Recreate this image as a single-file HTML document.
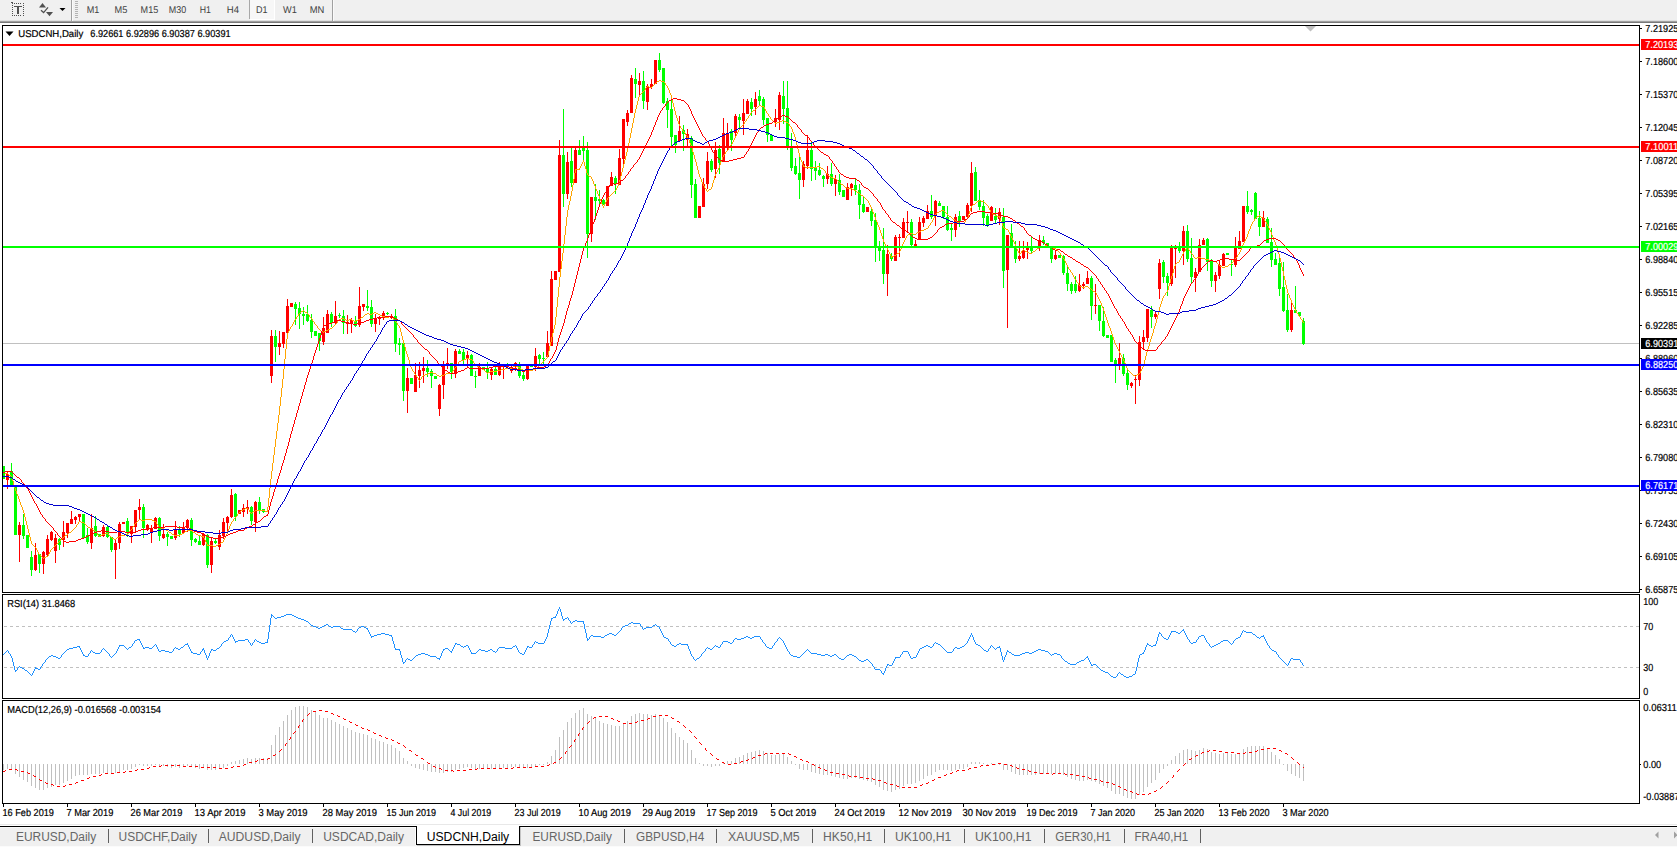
<!DOCTYPE html>
<html><head><meta charset="utf-8"><title>USDCNH,Daily</title>
<style>
html,body{margin:0;padding:0;background:#fff;}
body{width:1677px;height:847px;overflow:hidden;position:relative;font-family:"Liberation Sans",sans-serif;}
svg text{white-space:pre;}
</style></head><body>
<svg width="1677" height="847" viewBox="0 0 1677 847" style="position:absolute;left:0;top:0">
<g shape-rendering="crispEdges">
<rect x="2" y="25" width="1638" height="1" fill="#000"/>
<rect x="2" y="25" width="1" height="779" fill="#000"/>
<rect x="1639" y="25" width="1" height="779" fill="#000"/>
<rect x="2" y="592" width="1638" height="1" fill="#000"/>
<rect x="2" y="593" width="1640" height="1" fill="#fff"/>
<rect x="2" y="594" width="1638" height="1" fill="#000"/>
<rect x="2" y="698" width="1638" height="1" fill="#000"/>
<rect x="2" y="699" width="1640" height="1" fill="#fff"/>
<rect x="2" y="700" width="1638" height="1" fill="#000"/>
<rect x="2" y="803" width="1638" height="1" fill="#000"/>
<rect x="1640" y="28" width="2" height="1" fill="#000"/>
<rect x="1640" y="61" width="2" height="1" fill="#000"/>
<rect x="1640" y="94" width="2" height="1" fill="#000"/>
<rect x="1640" y="127" width="2" height="1" fill="#000"/>
<rect x="1640" y="160" width="2" height="1" fill="#000"/>
<rect x="1640" y="193" width="2" height="1" fill="#000"/>
<rect x="1640" y="226" width="2" height="1" fill="#000"/>
<rect x="1640" y="259" width="2" height="1" fill="#000"/>
<rect x="1640" y="292" width="2" height="1" fill="#000"/>
<rect x="1640" y="325" width="2" height="1" fill="#000"/>
<rect x="1640" y="358" width="2" height="1" fill="#000"/>
<rect x="1640" y="391" width="2" height="1" fill="#000"/>
<rect x="1640" y="424" width="2" height="1" fill="#000"/>
<rect x="1640" y="457" width="2" height="1" fill="#000"/>
<rect x="1640" y="490" width="2" height="1" fill="#000"/>
<rect x="1640" y="523" width="2" height="1" fill="#000"/>
<rect x="1640" y="556" width="2" height="1" fill="#000"/>
<rect x="1640" y="589" width="2" height="1" fill="#000"/>
<rect x="3" y="804" width="1" height="3" fill="#000"/>
<rect x="67" y="804" width="1" height="3" fill="#000"/>
<rect x="131" y="804" width="1" height="3" fill="#000"/>
<rect x="195" y="804" width="1" height="3" fill="#000"/>
<rect x="259" y="804" width="1" height="3" fill="#000"/>
<rect x="323" y="804" width="1" height="3" fill="#000"/>
<rect x="387" y="804" width="1" height="3" fill="#000"/>
<rect x="451" y="804" width="1" height="3" fill="#000"/>
<rect x="515" y="804" width="1" height="3" fill="#000"/>
<rect x="579" y="804" width="1" height="3" fill="#000"/>
<rect x="643" y="804" width="1" height="3" fill="#000"/>
<rect x="707" y="804" width="1" height="3" fill="#000"/>
<rect x="771" y="804" width="1" height="3" fill="#000"/>
<rect x="835" y="804" width="1" height="3" fill="#000"/>
<rect x="899" y="804" width="1" height="3" fill="#000"/>
<rect x="963" y="804" width="1" height="3" fill="#000"/>
<rect x="1027" y="804" width="1" height="3" fill="#000"/>
<rect x="1091" y="804" width="1" height="3" fill="#000"/>
<rect x="1155" y="804" width="1" height="3" fill="#000"/>
<rect x="1219" y="804" width="1" height="3" fill="#000"/>
<rect x="1283" y="804" width="1" height="3" fill="#000"/>
<rect x="1640" y="764" width="1" height="1" fill="#000"/>
</g>
<g shape-rendering="crispEdges">
<rect x="3" y="343" width="1636" height="1" fill="#c0c0c0"/>
</g>
<g shape-rendering="crispEdges">
<rect x="3" y="466" width="1" height="13" fill="#00ff00"/>
<rect x="3" y="466" width="2" height="13" fill="#00ff00"/>
<rect x="7" y="471" width="1" height="18" fill="#ff0000"/>
<rect x="6" y="474" width="3" height="6" fill="#ff0000"/>
<rect x="11" y="463" width="1" height="23" fill="#00ff00"/>
<rect x="10" y="471" width="3" height="15" fill="#00ff00"/>
<rect x="15" y="486" width="1" height="49" fill="#00ff00"/>
<rect x="14" y="486" width="3" height="49" fill="#00ff00"/>
<rect x="19" y="522" width="1" height="40" fill="#ff0000"/>
<rect x="18" y="525" width="3" height="10" fill="#ff0000"/>
<rect x="23" y="514" width="1" height="25" fill="#00ff00"/>
<rect x="22" y="525" width="3" height="11" fill="#00ff00"/>
<rect x="27" y="535" width="1" height="13" fill="#00ff00"/>
<rect x="26" y="535" width="3" height="13" fill="#00ff00"/>
<rect x="31" y="551" width="1" height="25" fill="#00ff00"/>
<rect x="30" y="557" width="3" height="13" fill="#00ff00"/>
<rect x="35" y="543" width="1" height="28" fill="#ff0000"/>
<rect x="34" y="555" width="3" height="15" fill="#ff0000"/>
<rect x="39" y="554" width="1" height="19" fill="#00ff00"/>
<rect x="38" y="554" width="3" height="10" fill="#00ff00"/>
<rect x="43" y="551" width="1" height="23" fill="#ff0000"/>
<rect x="42" y="552" width="3" height="12" fill="#ff0000"/>
<rect x="47" y="535" width="1" height="22" fill="#ff0000"/>
<rect x="46" y="539" width="3" height="16" fill="#ff0000"/>
<rect x="51" y="531" width="1" height="10" fill="#ff0000"/>
<rect x="50" y="532" width="3" height="8" fill="#ff0000"/>
<rect x="55" y="534" width="1" height="29" fill="#ff0000"/>
<rect x="54" y="538" width="3" height="13" fill="#ff0000"/>
<rect x="59" y="538" width="1" height="12" fill="#00ff00"/>
<rect x="58" y="539" width="3" height="6" fill="#00ff00"/>
<rect x="63" y="521" width="1" height="26" fill="#ff0000"/>
<rect x="62" y="532" width="3" height="8" fill="#ff0000"/>
<rect x="67" y="523" width="1" height="15" fill="#ff0000"/>
<rect x="66" y="523" width="3" height="10" fill="#ff0000"/>
<rect x="71" y="511" width="1" height="13" fill="#ff0000"/>
<rect x="70" y="519" width="3" height="5" fill="#ff0000"/>
<rect x="75" y="516" width="1" height="8" fill="#ff0000"/>
<rect x="74" y="517" width="3" height="3" fill="#ff0000"/>
<rect x="79" y="514" width="1" height="7" fill="#ff0000"/>
<rect x="78" y="514" width="3" height="3" fill="#ff0000"/>
<rect x="83" y="514" width="1" height="24" fill="#00ff00"/>
<rect x="82" y="514" width="3" height="24" fill="#00ff00"/>
<rect x="87" y="528" width="1" height="16" fill="#00ff00"/>
<rect x="86" y="535" width="3" height="7" fill="#00ff00"/>
<rect x="91" y="514" width="1" height="35" fill="#ff0000"/>
<rect x="90" y="528" width="3" height="15" fill="#ff0000"/>
<rect x="95" y="516" width="1" height="21" fill="#00ff00"/>
<rect x="94" y="526" width="3" height="10" fill="#00ff00"/>
<rect x="99" y="534" width="1" height="3" fill="#00ff00"/>
<rect x="98" y="534" width="3" height="3" fill="#00ff00"/>
<rect x="103" y="525" width="1" height="12" fill="#ff0000"/>
<rect x="102" y="527" width="3" height="9" fill="#ff0000"/>
<rect x="107" y="525" width="1" height="13" fill="#00ff00"/>
<rect x="106" y="527" width="3" height="10" fill="#00ff00"/>
<rect x="111" y="537" width="1" height="15" fill="#00ff00"/>
<rect x="110" y="537" width="3" height="13" fill="#00ff00"/>
<rect x="115" y="539" width="1" height="40" fill="#ff0000"/>
<rect x="114" y="543" width="3" height="7" fill="#ff0000"/>
<rect x="119" y="522" width="1" height="27" fill="#ff0000"/>
<rect x="118" y="524" width="3" height="19" fill="#ff0000"/>
<rect x="123" y="522" width="1" height="2" fill="#ff0000"/>
<rect x="122" y="522" width="3" height="2" fill="#ff0000"/>
<rect x="127" y="518" width="1" height="19" fill="#00ff00"/>
<rect x="126" y="521" width="3" height="11" fill="#00ff00"/>
<rect x="131" y="526" width="1" height="17" fill="#ff0000"/>
<rect x="130" y="526" width="3" height="8" fill="#ff0000"/>
<rect x="135" y="510" width="1" height="23" fill="#ff0000"/>
<rect x="134" y="510" width="3" height="17" fill="#ff0000"/>
<rect x="139" y="499" width="1" height="20" fill="#ff0000"/>
<rect x="138" y="507" width="3" height="3" fill="#ff0000"/>
<rect x="143" y="504" width="1" height="34" fill="#00ff00"/>
<rect x="142" y="507" width="3" height="21" fill="#00ff00"/>
<rect x="147" y="524" width="1" height="7" fill="#ff0000"/>
<rect x="146" y="525" width="3" height="4" fill="#ff0000"/>
<rect x="151" y="525" width="1" height="18" fill="#ff0000"/>
<rect x="150" y="528" width="3" height="5" fill="#ff0000"/>
<rect x="155" y="517" width="1" height="12" fill="#ff0000"/>
<rect x="154" y="518" width="3" height="11" fill="#ff0000"/>
<rect x="159" y="517" width="1" height="24" fill="#00ff00"/>
<rect x="158" y="518" width="3" height="18" fill="#00ff00"/>
<rect x="163" y="524" width="1" height="15" fill="#ff0000"/>
<rect x="162" y="534" width="3" height="4" fill="#ff0000"/>
<rect x="167" y="532" width="1" height="14" fill="#00ff00"/>
<rect x="166" y="534" width="3" height="3" fill="#00ff00"/>
<rect x="171" y="536" width="1" height="3" fill="#00ff00"/>
<rect x="170" y="536" width="3" height="3" fill="#00ff00"/>
<rect x="175" y="521" width="1" height="19" fill="#ff0000"/>
<rect x="174" y="529" width="3" height="9" fill="#ff0000"/>
<rect x="179" y="526" width="1" height="11" fill="#00ff00"/>
<rect x="178" y="530" width="3" height="4" fill="#00ff00"/>
<rect x="183" y="522" width="1" height="11" fill="#ff0000"/>
<rect x="182" y="527" width="3" height="6" fill="#ff0000"/>
<rect x="187" y="519" width="1" height="13" fill="#ff0000"/>
<rect x="186" y="520" width="3" height="8" fill="#ff0000"/>
<rect x="191" y="518" width="1" height="28" fill="#00ff00"/>
<rect x="190" y="520" width="3" height="20" fill="#00ff00"/>
<rect x="195" y="538" width="1" height="5" fill="#00ff00"/>
<rect x="194" y="539" width="3" height="3" fill="#00ff00"/>
<rect x="199" y="536" width="1" height="9" fill="#00ff00"/>
<rect x="198" y="541" width="3" height="4" fill="#00ff00"/>
<rect x="203" y="533" width="1" height="13" fill="#ff0000"/>
<rect x="202" y="534" width="3" height="11" fill="#ff0000"/>
<rect x="207" y="534" width="1" height="34" fill="#00ff00"/>
<rect x="206" y="535" width="3" height="30" fill="#00ff00"/>
<rect x="211" y="538" width="1" height="35" fill="#ff0000"/>
<rect x="210" y="541" width="3" height="24" fill="#ff0000"/>
<rect x="215" y="538" width="1" height="6" fill="#00ff00"/>
<rect x="214" y="541" width="3" height="2" fill="#00ff00"/>
<rect x="219" y="530" width="1" height="20" fill="#ff0000"/>
<rect x="218" y="535" width="3" height="12" fill="#ff0000"/>
<rect x="223" y="518" width="1" height="21" fill="#ff0000"/>
<rect x="222" y="522" width="3" height="14" fill="#ff0000"/>
<rect x="227" y="516" width="1" height="16" fill="#ff0000"/>
<rect x="226" y="517" width="3" height="6" fill="#ff0000"/>
<rect x="231" y="489" width="1" height="29" fill="#ff0000"/>
<rect x="230" y="495" width="3" height="22" fill="#ff0000"/>
<rect x="235" y="493" width="1" height="28" fill="#00ff00"/>
<rect x="234" y="494" width="3" height="23" fill="#00ff00"/>
<rect x="239" y="510" width="1" height="4" fill="#ff0000"/>
<rect x="238" y="510" width="3" height="4" fill="#ff0000"/>
<rect x="243" y="504" width="1" height="13" fill="#ff0000"/>
<rect x="242" y="508" width="3" height="4" fill="#ff0000"/>
<rect x="247" y="500" width="1" height="14" fill="#ff0000"/>
<rect x="246" y="507" width="3" height="2" fill="#ff0000"/>
<rect x="251" y="506" width="1" height="19" fill="#00ff00"/>
<rect x="250" y="507" width="3" height="14" fill="#00ff00"/>
<rect x="255" y="501" width="1" height="31" fill="#ff0000"/>
<rect x="254" y="502" width="3" height="20" fill="#ff0000"/>
<rect x="259" y="497" width="1" height="17" fill="#00ff00"/>
<rect x="258" y="502" width="3" height="8" fill="#00ff00"/>
<rect x="263" y="509" width="1" height="4" fill="#00ff00"/>
<rect x="262" y="509" width="3" height="3" fill="#00ff00"/>
<rect x="271" y="330" width="1" height="53" fill="#ff0000"/>
<rect x="270" y="336" width="3" height="40" fill="#ff0000"/>
<rect x="275" y="330" width="1" height="32" fill="#00ff00"/>
<rect x="274" y="336" width="3" height="11" fill="#00ff00"/>
<rect x="279" y="331" width="1" height="24" fill="#ff0000"/>
<rect x="278" y="343" width="3" height="4" fill="#ff0000"/>
<rect x="283" y="332" width="1" height="16" fill="#ff0000"/>
<rect x="282" y="332" width="3" height="12" fill="#ff0000"/>
<rect x="287" y="299" width="1" height="34" fill="#ff0000"/>
<rect x="286" y="306" width="3" height="27" fill="#ff0000"/>
<rect x="291" y="303" width="1" height="4" fill="#ff0000"/>
<rect x="290" y="303" width="3" height="4" fill="#ff0000"/>
<rect x="295" y="302" width="1" height="23" fill="#00ff00"/>
<rect x="294" y="304" width="3" height="5" fill="#00ff00"/>
<rect x="299" y="302" width="1" height="27" fill="#00ff00"/>
<rect x="298" y="308" width="3" height="6" fill="#00ff00"/>
<rect x="303" y="307" width="1" height="18" fill="#00ff00"/>
<rect x="302" y="314" width="3" height="2" fill="#00ff00"/>
<rect x="307" y="305" width="1" height="17" fill="#00ff00"/>
<rect x="306" y="314" width="3" height="7" fill="#00ff00"/>
<rect x="311" y="314" width="1" height="24" fill="#00ff00"/>
<rect x="310" y="320" width="3" height="12" fill="#00ff00"/>
<rect x="315" y="331" width="1" height="5" fill="#00ff00"/>
<rect x="314" y="331" width="3" height="5" fill="#00ff00"/>
<rect x="319" y="333" width="1" height="18" fill="#00ff00"/>
<rect x="318" y="333" width="3" height="8" fill="#00ff00"/>
<rect x="323" y="317" width="1" height="28" fill="#ff0000"/>
<rect x="322" y="328" width="3" height="14" fill="#ff0000"/>
<rect x="327" y="310" width="1" height="23" fill="#ff0000"/>
<rect x="326" y="314" width="3" height="19" fill="#ff0000"/>
<rect x="331" y="312" width="1" height="15" fill="#00ff00"/>
<rect x="330" y="314" width="3" height="9" fill="#00ff00"/>
<rect x="335" y="301" width="1" height="23" fill="#ff0000"/>
<rect x="334" y="316" width="3" height="7" fill="#ff0000"/>
<rect x="339" y="313" width="1" height="5" fill="#00ff00"/>
<rect x="338" y="315" width="3" height="1" fill="#00ff00"/>
<rect x="343" y="310" width="1" height="24" fill="#00ff00"/>
<rect x="342" y="316" width="3" height="7" fill="#00ff00"/>
<rect x="347" y="315" width="1" height="19" fill="#ff0000"/>
<rect x="346" y="322" width="3" height="2" fill="#ff0000"/>
<rect x="351" y="318" width="1" height="15" fill="#ff0000"/>
<rect x="350" y="320" width="3" height="4" fill="#ff0000"/>
<rect x="355" y="316" width="1" height="11" fill="#00ff00"/>
<rect x="354" y="321" width="3" height="5" fill="#00ff00"/>
<rect x="359" y="287" width="1" height="40" fill="#ff0000"/>
<rect x="358" y="306" width="3" height="19" fill="#ff0000"/>
<rect x="363" y="304" width="1" height="7" fill="#ff0000"/>
<rect x="362" y="304" width="3" height="3" fill="#ff0000"/>
<rect x="367" y="290" width="1" height="21" fill="#00ff00"/>
<rect x="366" y="306" width="3" height="2" fill="#00ff00"/>
<rect x="371" y="300" width="1" height="27" fill="#00ff00"/>
<rect x="370" y="307" width="3" height="17" fill="#00ff00"/>
<rect x="375" y="314" width="1" height="18" fill="#ff0000"/>
<rect x="374" y="318" width="3" height="6" fill="#ff0000"/>
<rect x="379" y="316" width="1" height="9" fill="#ff0000"/>
<rect x="378" y="317" width="3" height="2" fill="#ff0000"/>
<rect x="383" y="311" width="1" height="9" fill="#ff0000"/>
<rect x="382" y="313" width="3" height="3" fill="#ff0000"/>
<rect x="387" y="312" width="1" height="3" fill="#00ff00"/>
<rect x="386" y="313" width="3" height="1" fill="#00ff00"/>
<rect x="391" y="314" width="1" height="5" fill="#ff0000"/>
<rect x="390" y="316" width="3" height="2" fill="#ff0000"/>
<rect x="395" y="309" width="1" height="43" fill="#00ff00"/>
<rect x="394" y="316" width="3" height="28" fill="#00ff00"/>
<rect x="399" y="338" width="1" height="17" fill="#00ff00"/>
<rect x="398" y="343" width="3" height="2" fill="#00ff00"/>
<rect x="403" y="343" width="1" height="58" fill="#00ff00"/>
<rect x="402" y="343" width="3" height="48" fill="#00ff00"/>
<rect x="407" y="368" width="1" height="45" fill="#ff0000"/>
<rect x="406" y="378" width="3" height="13" fill="#ff0000"/>
<rect x="411" y="378" width="1" height="6" fill="#00ff00"/>
<rect x="410" y="378" width="3" height="6" fill="#00ff00"/>
<rect x="415" y="363" width="1" height="29" fill="#ff0000"/>
<rect x="414" y="375" width="3" height="17" fill="#ff0000"/>
<rect x="419" y="362" width="1" height="26" fill="#ff0000"/>
<rect x="418" y="370" width="3" height="6" fill="#ff0000"/>
<rect x="423" y="357" width="1" height="26" fill="#ff0000"/>
<rect x="422" y="368" width="3" height="3" fill="#ff0000"/>
<rect x="427" y="360" width="1" height="17" fill="#00ff00"/>
<rect x="426" y="368" width="3" height="4" fill="#00ff00"/>
<rect x="431" y="369" width="1" height="19" fill="#00ff00"/>
<rect x="430" y="371" width="3" height="5" fill="#00ff00"/>
<rect x="435" y="376" width="1" height="3" fill="#00ff00"/>
<rect x="434" y="376" width="3" height="3" fill="#00ff00"/>
<rect x="439" y="384" width="1" height="32" fill="#ff0000"/>
<rect x="438" y="385" width="3" height="24" fill="#ff0000"/>
<rect x="443" y="361" width="1" height="38" fill="#ff0000"/>
<rect x="442" y="365" width="3" height="20" fill="#ff0000"/>
<rect x="447" y="348" width="1" height="21" fill="#ff0000"/>
<rect x="446" y="363" width="3" height="2" fill="#ff0000"/>
<rect x="451" y="363" width="1" height="16" fill="#00ff00"/>
<rect x="450" y="363" width="3" height="9" fill="#00ff00"/>
<rect x="455" y="349" width="1" height="29" fill="#ff0000"/>
<rect x="454" y="351" width="3" height="23" fill="#ff0000"/>
<rect x="459" y="349" width="1" height="5" fill="#00ff00"/>
<rect x="458" y="351" width="3" height="3" fill="#00ff00"/>
<rect x="463" y="349" width="1" height="15" fill="#00ff00"/>
<rect x="462" y="352" width="3" height="8" fill="#00ff00"/>
<rect x="467" y="351" width="1" height="16" fill="#ff0000"/>
<rect x="466" y="355" width="3" height="4" fill="#ff0000"/>
<rect x="471" y="354" width="1" height="22" fill="#00ff00"/>
<rect x="470" y="355" width="3" height="21" fill="#00ff00"/>
<rect x="475" y="371" width="1" height="17" fill="#00ff00"/>
<rect x="474" y="376" width="3" height="1" fill="#00ff00"/>
<rect x="479" y="363" width="1" height="13" fill="#ff0000"/>
<rect x="478" y="367" width="3" height="9" fill="#ff0000"/>
<rect x="483" y="367" width="1" height="3" fill="#00ff00"/>
<rect x="482" y="367" width="3" height="3" fill="#00ff00"/>
<rect x="487" y="362" width="1" height="17" fill="#00ff00"/>
<rect x="486" y="368" width="3" height="4" fill="#00ff00"/>
<rect x="491" y="367" width="1" height="13" fill="#ff0000"/>
<rect x="490" y="369" width="3" height="6" fill="#ff0000"/>
<rect x="495" y="367" width="1" height="8" fill="#00ff00"/>
<rect x="494" y="369" width="3" height="6" fill="#00ff00"/>
<rect x="499" y="362" width="1" height="14" fill="#ff0000"/>
<rect x="498" y="365" width="3" height="10" fill="#ff0000"/>
<rect x="503" y="365" width="1" height="14" fill="#ff0000"/>
<rect x="502" y="365" width="3" height="1" fill="#ff0000"/>
<rect x="507" y="363" width="1" height="4" fill="#00ff00"/>
<rect x="506" y="365" width="3" height="1" fill="#00ff00"/>
<rect x="511" y="366" width="1" height="7" fill="#ff0000"/>
<rect x="510" y="367" width="3" height="4" fill="#ff0000"/>
<rect x="515" y="362" width="1" height="9" fill="#ff0000"/>
<rect x="514" y="363" width="3" height="3" fill="#ff0000"/>
<rect x="519" y="362" width="1" height="16" fill="#00ff00"/>
<rect x="518" y="365" width="3" height="11" fill="#00ff00"/>
<rect x="523" y="371" width="1" height="10" fill="#00ff00"/>
<rect x="522" y="375" width="3" height="4" fill="#00ff00"/>
<rect x="527" y="365" width="1" height="15" fill="#ff0000"/>
<rect x="526" y="366" width="3" height="13" fill="#ff0000"/>
<rect x="531" y="366" width="1" height="1" fill="#00ff00"/>
<rect x="530" y="366" width="3" height="1" fill="#00ff00"/>
<rect x="535" y="348" width="1" height="23" fill="#ff0000"/>
<rect x="534" y="356" width="3" height="11" fill="#ff0000"/>
<rect x="539" y="354" width="1" height="11" fill="#00ff00"/>
<rect x="538" y="355" width="3" height="4" fill="#00ff00"/>
<rect x="543" y="352" width="1" height="13" fill="#00ff00"/>
<rect x="542" y="358" width="3" height="1" fill="#00ff00"/>
<rect x="547" y="331" width="1" height="26" fill="#ff0000"/>
<rect x="546" y="343" width="3" height="14" fill="#ff0000"/>
<rect x="551" y="271" width="1" height="75" fill="#ff0000"/>
<rect x="550" y="279" width="3" height="67" fill="#ff0000"/>
<rect x="555" y="271" width="1" height="9" fill="#ff0000"/>
<rect x="554" y="271" width="3" height="9" fill="#ff0000"/>
<rect x="559" y="140" width="1" height="132" fill="#ff0000"/>
<rect x="558" y="155" width="3" height="117" fill="#ff0000"/>
<rect x="563" y="109" width="1" height="98" fill="#00ff00"/>
<rect x="562" y="155" width="3" height="39" fill="#00ff00"/>
<rect x="567" y="152" width="1" height="47" fill="#ff0000"/>
<rect x="566" y="162" width="3" height="32" fill="#ff0000"/>
<rect x="571" y="148" width="1" height="39" fill="#00ff00"/>
<rect x="570" y="161" width="3" height="22" fill="#00ff00"/>
<rect x="575" y="148" width="1" height="35" fill="#ff0000"/>
<rect x="574" y="150" width="3" height="33" fill="#ff0000"/>
<rect x="579" y="140" width="1" height="15" fill="#00ff00"/>
<rect x="578" y="150" width="3" height="5" fill="#00ff00"/>
<rect x="583" y="136" width="1" height="24" fill="#00ff00"/>
<rect x="582" y="148" width="3" height="3" fill="#00ff00"/>
<rect x="587" y="142" width="1" height="116" fill="#00ff00"/>
<rect x="586" y="150" width="3" height="84" fill="#00ff00"/>
<rect x="591" y="197" width="1" height="45" fill="#ff0000"/>
<rect x="590" y="197" width="3" height="37" fill="#ff0000"/>
<rect x="595" y="184" width="1" height="36" fill="#00ff00"/>
<rect x="594" y="197" width="3" height="4" fill="#00ff00"/>
<rect x="599" y="190" width="1" height="16" fill="#00ff00"/>
<rect x="598" y="199" width="3" height="2" fill="#00ff00"/>
<rect x="603" y="199" width="1" height="6" fill="#00ff00"/>
<rect x="602" y="200" width="3" height="4" fill="#00ff00"/>
<rect x="607" y="186" width="1" height="20" fill="#ff0000"/>
<rect x="606" y="186" width="3" height="20" fill="#ff0000"/>
<rect x="611" y="172" width="1" height="14" fill="#ff0000"/>
<rect x="610" y="177" width="3" height="9" fill="#ff0000"/>
<rect x="615" y="176" width="1" height="18" fill="#00ff00"/>
<rect x="614" y="178" width="3" height="6" fill="#00ff00"/>
<rect x="619" y="149" width="1" height="36" fill="#ff0000"/>
<rect x="618" y="158" width="3" height="27" fill="#ff0000"/>
<rect x="623" y="119" width="1" height="45" fill="#ff0000"/>
<rect x="622" y="119" width="3" height="40" fill="#ff0000"/>
<rect x="627" y="110" width="1" height="16" fill="#ff0000"/>
<rect x="626" y="113" width="3" height="9" fill="#ff0000"/>
<rect x="631" y="75" width="1" height="38" fill="#ff0000"/>
<rect x="630" y="78" width="3" height="35" fill="#ff0000"/>
<rect x="635" y="68" width="1" height="30" fill="#00ff00"/>
<rect x="634" y="79" width="3" height="5" fill="#00ff00"/>
<rect x="639" y="73" width="1" height="22" fill="#ff0000"/>
<rect x="638" y="81" width="3" height="4" fill="#ff0000"/>
<rect x="643" y="71" width="1" height="38" fill="#00ff00"/>
<rect x="642" y="81" width="3" height="20" fill="#00ff00"/>
<rect x="647" y="84" width="1" height="26" fill="#ff0000"/>
<rect x="646" y="86" width="3" height="16" fill="#ff0000"/>
<rect x="651" y="79" width="1" height="10" fill="#ff0000"/>
<rect x="650" y="84" width="3" height="3" fill="#ff0000"/>
<rect x="655" y="60" width="1" height="24" fill="#ff0000"/>
<rect x="654" y="60" width="3" height="24" fill="#ff0000"/>
<rect x="659" y="53" width="1" height="19" fill="#00ff00"/>
<rect x="658" y="60" width="3" height="10" fill="#00ff00"/>
<rect x="663" y="68" width="1" height="36" fill="#00ff00"/>
<rect x="662" y="68" width="3" height="35" fill="#00ff00"/>
<rect x="667" y="98" width="1" height="30" fill="#00ff00"/>
<rect x="666" y="101" width="3" height="9" fill="#00ff00"/>
<rect x="671" y="99" width="1" height="48" fill="#00ff00"/>
<rect x="670" y="109" width="3" height="28" fill="#00ff00"/>
<rect x="675" y="135" width="1" height="18" fill="#00ff00"/>
<rect x="674" y="135" width="3" height="10" fill="#00ff00"/>
<rect x="679" y="116" width="1" height="25" fill="#ff0000"/>
<rect x="678" y="131" width="3" height="10" fill="#ff0000"/>
<rect x="683" y="125" width="1" height="26" fill="#00ff00"/>
<rect x="682" y="130" width="3" height="4" fill="#00ff00"/>
<rect x="687" y="129" width="1" height="17" fill="#ff0000"/>
<rect x="686" y="134" width="3" height="6" fill="#ff0000"/>
<rect x="691" y="136" width="1" height="62" fill="#00ff00"/>
<rect x="690" y="138" width="3" height="47" fill="#00ff00"/>
<rect x="695" y="179" width="1" height="39" fill="#00ff00"/>
<rect x="694" y="184" width="3" height="34" fill="#00ff00"/>
<rect x="699" y="206" width="1" height="12" fill="#ff0000"/>
<rect x="698" y="206" width="3" height="12" fill="#ff0000"/>
<rect x="703" y="178" width="1" height="29" fill="#ff0000"/>
<rect x="702" y="184" width="3" height="23" fill="#ff0000"/>
<rect x="707" y="152" width="1" height="37" fill="#ff0000"/>
<rect x="706" y="161" width="3" height="23" fill="#ff0000"/>
<rect x="711" y="159" width="1" height="13" fill="#00ff00"/>
<rect x="710" y="161" width="3" height="9" fill="#00ff00"/>
<rect x="715" y="142" width="1" height="36" fill="#ff0000"/>
<rect x="714" y="150" width="3" height="19" fill="#ff0000"/>
<rect x="719" y="145" width="1" height="29" fill="#00ff00"/>
<rect x="718" y="149" width="3" height="14" fill="#00ff00"/>
<rect x="723" y="118" width="1" height="44" fill="#ff0000"/>
<rect x="722" y="133" width="3" height="29" fill="#ff0000"/>
<rect x="727" y="123" width="1" height="28" fill="#ff0000"/>
<rect x="726" y="133" width="3" height="15" fill="#ff0000"/>
<rect x="731" y="129" width="1" height="22" fill="#00ff00"/>
<rect x="730" y="131" width="3" height="9" fill="#00ff00"/>
<rect x="735" y="114" width="1" height="24" fill="#ff0000"/>
<rect x="734" y="116" width="3" height="17" fill="#ff0000"/>
<rect x="739" y="114" width="1" height="15" fill="#00ff00"/>
<rect x="738" y="117" width="3" height="3" fill="#00ff00"/>
<rect x="743" y="99" width="1" height="36" fill="#ff0000"/>
<rect x="742" y="113" width="3" height="8" fill="#ff0000"/>
<rect x="747" y="99" width="1" height="15" fill="#ff0000"/>
<rect x="746" y="101" width="3" height="13" fill="#ff0000"/>
<rect x="751" y="98" width="1" height="18" fill="#00ff00"/>
<rect x="750" y="102" width="3" height="7" fill="#00ff00"/>
<rect x="755" y="92" width="1" height="23" fill="#ff0000"/>
<rect x="754" y="99" width="3" height="8" fill="#ff0000"/>
<rect x="759" y="90" width="1" height="15" fill="#00ff00"/>
<rect x="758" y="96" width="3" height="5" fill="#00ff00"/>
<rect x="763" y="97" width="1" height="28" fill="#00ff00"/>
<rect x="762" y="99" width="3" height="21" fill="#00ff00"/>
<rect x="767" y="118" width="1" height="24" fill="#00ff00"/>
<rect x="766" y="118" width="3" height="17" fill="#00ff00"/>
<rect x="771" y="135" width="1" height="6" fill="#00ff00"/>
<rect x="770" y="135" width="3" height="6" fill="#00ff00"/>
<rect x="775" y="109" width="1" height="18" fill="#ff0000"/>
<rect x="774" y="118" width="3" height="4" fill="#ff0000"/>
<rect x="779" y="92" width="1" height="38" fill="#ff0000"/>
<rect x="778" y="95" width="3" height="25" fill="#ff0000"/>
<rect x="783" y="81" width="1" height="43" fill="#00ff00"/>
<rect x="782" y="96" width="3" height="13" fill="#00ff00"/>
<rect x="787" y="81" width="1" height="69" fill="#00ff00"/>
<rect x="786" y="108" width="3" height="38" fill="#00ff00"/>
<rect x="791" y="133" width="1" height="38" fill="#00ff00"/>
<rect x="790" y="146" width="3" height="22" fill="#00ff00"/>
<rect x="795" y="158" width="1" height="17" fill="#00ff00"/>
<rect x="794" y="166" width="3" height="8" fill="#00ff00"/>
<rect x="799" y="156" width="1" height="43" fill="#00ff00"/>
<rect x="798" y="173" width="3" height="7" fill="#00ff00"/>
<rect x="803" y="161" width="1" height="26" fill="#ff0000"/>
<rect x="802" y="164" width="3" height="16" fill="#ff0000"/>
<rect x="807" y="135" width="1" height="34" fill="#ff0000"/>
<rect x="806" y="150" width="3" height="16" fill="#ff0000"/>
<rect x="811" y="142" width="1" height="39" fill="#00ff00"/>
<rect x="810" y="150" width="3" height="19" fill="#00ff00"/>
<rect x="815" y="161" width="1" height="19" fill="#00ff00"/>
<rect x="814" y="167" width="3" height="4" fill="#00ff00"/>
<rect x="819" y="163" width="1" height="13" fill="#00ff00"/>
<rect x="818" y="170" width="3" height="5" fill="#00ff00"/>
<rect x="823" y="175" width="1" height="12" fill="#00ff00"/>
<rect x="822" y="176" width="3" height="3" fill="#00ff00"/>
<rect x="827" y="166" width="1" height="18" fill="#ff0000"/>
<rect x="826" y="174" width="3" height="5" fill="#ff0000"/>
<rect x="831" y="163" width="1" height="23" fill="#00ff00"/>
<rect x="830" y="174" width="3" height="10" fill="#00ff00"/>
<rect x="835" y="175" width="1" height="21" fill="#ff0000"/>
<rect x="834" y="179" width="3" height="5" fill="#ff0000"/>
<rect x="839" y="174" width="1" height="21" fill="#00ff00"/>
<rect x="838" y="180" width="3" height="12" fill="#00ff00"/>
<rect x="843" y="190" width="1" height="7" fill="#00ff00"/>
<rect x="842" y="190" width="3" height="7" fill="#00ff00"/>
<rect x="847" y="183" width="1" height="17" fill="#ff0000"/>
<rect x="846" y="187" width="3" height="13" fill="#ff0000"/>
<rect x="851" y="183" width="1" height="13" fill="#ff0000"/>
<rect x="850" y="184" width="3" height="4" fill="#ff0000"/>
<rect x="855" y="178" width="1" height="17" fill="#00ff00"/>
<rect x="854" y="185" width="3" height="5" fill="#00ff00"/>
<rect x="859" y="184" width="1" height="35" fill="#00ff00"/>
<rect x="858" y="190" width="3" height="15" fill="#00ff00"/>
<rect x="863" y="197" width="1" height="16" fill="#00ff00"/>
<rect x="862" y="204" width="3" height="8" fill="#00ff00"/>
<rect x="867" y="207" width="1" height="5" fill="#ff0000"/>
<rect x="866" y="207" width="3" height="5" fill="#ff0000"/>
<rect x="871" y="209" width="1" height="17" fill="#00ff00"/>
<rect x="870" y="211" width="3" height="10" fill="#00ff00"/>
<rect x="875" y="213" width="1" height="49" fill="#00ff00"/>
<rect x="874" y="220" width="3" height="27" fill="#00ff00"/>
<rect x="879" y="241" width="1" height="20" fill="#00ff00"/>
<rect x="878" y="247" width="3" height="4" fill="#00ff00"/>
<rect x="883" y="228" width="1" height="56" fill="#00ff00"/>
<rect x="882" y="250" width="3" height="24" fill="#00ff00"/>
<rect x="887" y="245" width="1" height="51" fill="#ff0000"/>
<rect x="886" y="254" width="3" height="20" fill="#ff0000"/>
<rect x="891" y="253" width="1" height="8" fill="#00ff00"/>
<rect x="890" y="256" width="3" height="3" fill="#00ff00"/>
<rect x="895" y="235" width="1" height="26" fill="#ff0000"/>
<rect x="894" y="237" width="3" height="24" fill="#ff0000"/>
<rect x="899" y="234" width="1" height="23" fill="#ff0000"/>
<rect x="898" y="237" width="3" height="1" fill="#ff0000"/>
<rect x="903" y="218" width="1" height="20" fill="#ff0000"/>
<rect x="902" y="222" width="3" height="16" fill="#ff0000"/>
<rect x="907" y="211" width="1" height="22" fill="#ff0000"/>
<rect x="906" y="222" width="3" height="1" fill="#ff0000"/>
<rect x="911" y="219" width="1" height="29" fill="#00ff00"/>
<rect x="910" y="222" width="3" height="23" fill="#00ff00"/>
<rect x="915" y="240" width="1" height="6" fill="#ff0000"/>
<rect x="914" y="244" width="3" height="2" fill="#ff0000"/>
<rect x="919" y="217" width="1" height="22" fill="#ff0000"/>
<rect x="918" y="222" width="3" height="17" fill="#ff0000"/>
<rect x="923" y="216" width="1" height="11" fill="#ff0000"/>
<rect x="922" y="218" width="3" height="5" fill="#ff0000"/>
<rect x="927" y="205" width="1" height="14" fill="#ff0000"/>
<rect x="926" y="211" width="3" height="8" fill="#ff0000"/>
<rect x="931" y="195" width="1" height="24" fill="#00ff00"/>
<rect x="930" y="211" width="3" height="6" fill="#00ff00"/>
<rect x="935" y="200" width="1" height="26" fill="#ff0000"/>
<rect x="934" y="201" width="3" height="15" fill="#ff0000"/>
<rect x="939" y="201" width="1" height="5" fill="#00ff00"/>
<rect x="938" y="203" width="3" height="3" fill="#00ff00"/>
<rect x="943" y="206" width="1" height="13" fill="#00ff00"/>
<rect x="942" y="206" width="3" height="11" fill="#00ff00"/>
<rect x="947" y="206" width="1" height="25" fill="#00ff00"/>
<rect x="946" y="217" width="3" height="13" fill="#00ff00"/>
<rect x="951" y="223" width="1" height="18" fill="#00ff00"/>
<rect x="950" y="228" width="3" height="2" fill="#00ff00"/>
<rect x="955" y="214" width="1" height="23" fill="#ff0000"/>
<rect x="954" y="217" width="3" height="13" fill="#ff0000"/>
<rect x="959" y="211" width="1" height="16" fill="#00ff00"/>
<rect x="958" y="216" width="3" height="5" fill="#00ff00"/>
<rect x="963" y="216" width="1" height="4" fill="#ff0000"/>
<rect x="962" y="216" width="3" height="4" fill="#ff0000"/>
<rect x="967" y="203" width="1" height="14" fill="#ff0000"/>
<rect x="966" y="205" width="3" height="12" fill="#ff0000"/>
<rect x="971" y="162" width="1" height="50" fill="#ff0000"/>
<rect x="970" y="173" width="3" height="33" fill="#ff0000"/>
<rect x="975" y="167" width="1" height="34" fill="#00ff00"/>
<rect x="974" y="172" width="3" height="29" fill="#00ff00"/>
<rect x="979" y="190" width="1" height="20" fill="#00ff00"/>
<rect x="978" y="200" width="3" height="7" fill="#00ff00"/>
<rect x="983" y="200" width="1" height="26" fill="#00ff00"/>
<rect x="982" y="206" width="3" height="12" fill="#00ff00"/>
<rect x="987" y="214" width="1" height="13" fill="#00ff00"/>
<rect x="986" y="216" width="3" height="9" fill="#00ff00"/>
<rect x="991" y="206" width="1" height="15" fill="#ff0000"/>
<rect x="990" y="207" width="3" height="14" fill="#ff0000"/>
<rect x="995" y="208" width="1" height="15" fill="#00ff00"/>
<rect x="994" y="216" width="3" height="4" fill="#00ff00"/>
<rect x="999" y="208" width="1" height="17" fill="#ff0000"/>
<rect x="998" y="212" width="3" height="7" fill="#ff0000"/>
<rect x="1003" y="208" width="1" height="80" fill="#00ff00"/>
<rect x="1002" y="217" width="3" height="54" fill="#00ff00"/>
<rect x="1007" y="235" width="1" height="93" fill="#ff0000"/>
<rect x="1006" y="235" width="3" height="35" fill="#ff0000"/>
<rect x="1011" y="224" width="1" height="23" fill="#00ff00"/>
<rect x="1010" y="233" width="3" height="14" fill="#00ff00"/>
<rect x="1015" y="241" width="1" height="22" fill="#00ff00"/>
<rect x="1014" y="246" width="3" height="13" fill="#00ff00"/>
<rect x="1019" y="241" width="1" height="20" fill="#ff0000"/>
<rect x="1018" y="256" width="3" height="3" fill="#ff0000"/>
<rect x="1023" y="241" width="1" height="18" fill="#ff0000"/>
<rect x="1022" y="250" width="3" height="8" fill="#ff0000"/>
<rect x="1027" y="242" width="1" height="17" fill="#ff0000"/>
<rect x="1026" y="248" width="3" height="2" fill="#ff0000"/>
<rect x="1031" y="237" width="1" height="17" fill="#00ff00"/>
<rect x="1030" y="247" width="3" height="4" fill="#00ff00"/>
<rect x="1035" y="246" width="1" height="2" fill="#ff0000"/>
<rect x="1034" y="246" width="3" height="2" fill="#ff0000"/>
<rect x="1039" y="235" width="1" height="16" fill="#ff0000"/>
<rect x="1038" y="240" width="3" height="6" fill="#ff0000"/>
<rect x="1043" y="236" width="1" height="9" fill="#00ff00"/>
<rect x="1042" y="240" width="3" height="3" fill="#00ff00"/>
<rect x="1047" y="243" width="1" height="3" fill="#00ff00"/>
<rect x="1046" y="243" width="3" height="3" fill="#00ff00"/>
<rect x="1051" y="247" width="1" height="16" fill="#00ff00"/>
<rect x="1050" y="248" width="3" height="11" fill="#00ff00"/>
<rect x="1055" y="250" width="1" height="10" fill="#ff0000"/>
<rect x="1054" y="255" width="3" height="4" fill="#ff0000"/>
<rect x="1059" y="255" width="1" height="3" fill="#00ff00"/>
<rect x="1058" y="255" width="3" height="3" fill="#00ff00"/>
<rect x="1063" y="255" width="1" height="20" fill="#00ff00"/>
<rect x="1062" y="256" width="3" height="17" fill="#00ff00"/>
<rect x="1067" y="267" width="1" height="24" fill="#00ff00"/>
<rect x="1066" y="273" width="3" height="11" fill="#00ff00"/>
<rect x="1071" y="282" width="1" height="12" fill="#00ff00"/>
<rect x="1070" y="284" width="3" height="7" fill="#00ff00"/>
<rect x="1075" y="276" width="1" height="17" fill="#00ff00"/>
<rect x="1074" y="284" width="3" height="7" fill="#00ff00"/>
<rect x="1079" y="274" width="1" height="18" fill="#ff0000"/>
<rect x="1078" y="285" width="3" height="6" fill="#ff0000"/>
<rect x="1083" y="282" width="1" height="7" fill="#ff0000"/>
<rect x="1082" y="284" width="3" height="2" fill="#ff0000"/>
<rect x="1087" y="271" width="1" height="13" fill="#ff0000"/>
<rect x="1086" y="278" width="3" height="6" fill="#ff0000"/>
<rect x="1091" y="276" width="1" height="44" fill="#00ff00"/>
<rect x="1090" y="278" width="3" height="28" fill="#00ff00"/>
<rect x="1095" y="284" width="1" height="30" fill="#ff0000"/>
<rect x="1094" y="305" width="3" height="1" fill="#ff0000"/>
<rect x="1099" y="305" width="1" height="26" fill="#00ff00"/>
<rect x="1098" y="305" width="3" height="16" fill="#00ff00"/>
<rect x="1103" y="307" width="1" height="30" fill="#00ff00"/>
<rect x="1102" y="321" width="3" height="15" fill="#00ff00"/>
<rect x="1107" y="335" width="1" height="3" fill="#00ff00"/>
<rect x="1106" y="335" width="3" height="3" fill="#00ff00"/>
<rect x="1111" y="335" width="1" height="27" fill="#00ff00"/>
<rect x="1110" y="335" width="3" height="27" fill="#00ff00"/>
<rect x="1115" y="358" width="1" height="25" fill="#00ff00"/>
<rect x="1114" y="360" width="3" height="5" fill="#00ff00"/>
<rect x="1119" y="343" width="1" height="27" fill="#ff0000"/>
<rect x="1118" y="358" width="3" height="7" fill="#ff0000"/>
<rect x="1123" y="354" width="1" height="22" fill="#00ff00"/>
<rect x="1122" y="358" width="3" height="16" fill="#00ff00"/>
<rect x="1127" y="368" width="1" height="22" fill="#00ff00"/>
<rect x="1126" y="373" width="3" height="12" fill="#00ff00"/>
<rect x="1131" y="382" width="1" height="6" fill="#ff0000"/>
<rect x="1130" y="383" width="3" height="3" fill="#ff0000"/>
<rect x="1135" y="375" width="1" height="29" fill="#ff0000"/>
<rect x="1134" y="379" width="3" height="1" fill="#ff0000"/>
<rect x="1139" y="336" width="1" height="50" fill="#ff0000"/>
<rect x="1138" y="342" width="3" height="38" fill="#ff0000"/>
<rect x="1143" y="330" width="1" height="19" fill="#ff0000"/>
<rect x="1142" y="337" width="3" height="5" fill="#ff0000"/>
<rect x="1147" y="309" width="1" height="33" fill="#ff0000"/>
<rect x="1146" y="309" width="3" height="29" fill="#ff0000"/>
<rect x="1151" y="306" width="1" height="22" fill="#00ff00"/>
<rect x="1150" y="310" width="3" height="7" fill="#00ff00"/>
<rect x="1155" y="312" width="1" height="7" fill="#ff0000"/>
<rect x="1154" y="314" width="3" height="3" fill="#ff0000"/>
<rect x="1159" y="259" width="1" height="40" fill="#ff0000"/>
<rect x="1158" y="263" width="3" height="26" fill="#ff0000"/>
<rect x="1163" y="260" width="1" height="23" fill="#00ff00"/>
<rect x="1162" y="262" width="3" height="15" fill="#00ff00"/>
<rect x="1167" y="273" width="1" height="23" fill="#00ff00"/>
<rect x="1166" y="276" width="3" height="7" fill="#00ff00"/>
<rect x="1171" y="245" width="1" height="41" fill="#ff0000"/>
<rect x="1170" y="248" width="3" height="36" fill="#ff0000"/>
<rect x="1175" y="245" width="1" height="33" fill="#ff0000"/>
<rect x="1174" y="248" width="3" height="1" fill="#ff0000"/>
<rect x="1179" y="242" width="1" height="11" fill="#00ff00"/>
<rect x="1178" y="247" width="3" height="4" fill="#00ff00"/>
<rect x="1183" y="226" width="1" height="39" fill="#ff0000"/>
<rect x="1182" y="231" width="3" height="20" fill="#ff0000"/>
<rect x="1187" y="225" width="1" height="37" fill="#00ff00"/>
<rect x="1186" y="231" width="3" height="28" fill="#00ff00"/>
<rect x="1191" y="238" width="1" height="45" fill="#00ff00"/>
<rect x="1190" y="258" width="3" height="19" fill="#00ff00"/>
<rect x="1195" y="268" width="1" height="24" fill="#ff0000"/>
<rect x="1194" y="272" width="3" height="6" fill="#ff0000"/>
<rect x="1199" y="239" width="1" height="33" fill="#ff0000"/>
<rect x="1198" y="245" width="3" height="27" fill="#ff0000"/>
<rect x="1203" y="238" width="1" height="7" fill="#ff0000"/>
<rect x="1202" y="240" width="3" height="5" fill="#ff0000"/>
<rect x="1207" y="238" width="1" height="33" fill="#00ff00"/>
<rect x="1206" y="239" width="3" height="23" fill="#00ff00"/>
<rect x="1211" y="259" width="1" height="28" fill="#00ff00"/>
<rect x="1210" y="260" width="3" height="21" fill="#00ff00"/>
<rect x="1215" y="272" width="1" height="20" fill="#ff0000"/>
<rect x="1214" y="275" width="3" height="6" fill="#ff0000"/>
<rect x="1219" y="260" width="1" height="19" fill="#ff0000"/>
<rect x="1218" y="265" width="3" height="11" fill="#ff0000"/>
<rect x="1223" y="253" width="1" height="13" fill="#ff0000"/>
<rect x="1222" y="254" width="3" height="12" fill="#ff0000"/>
<rect x="1227" y="253" width="1" height="2" fill="#00ff00"/>
<rect x="1226" y="253" width="3" height="2" fill="#00ff00"/>
<rect x="1231" y="260" width="1" height="16" fill="#00ff00"/>
<rect x="1230" y="264" width="3" height="1" fill="#00ff00"/>
<rect x="1235" y="237" width="1" height="30" fill="#ff0000"/>
<rect x="1234" y="248" width="3" height="17" fill="#ff0000"/>
<rect x="1239" y="231" width="1" height="18" fill="#ff0000"/>
<rect x="1238" y="241" width="3" height="8" fill="#ff0000"/>
<rect x="1243" y="206" width="1" height="36" fill="#ff0000"/>
<rect x="1242" y="206" width="3" height="36" fill="#ff0000"/>
<rect x="1247" y="191" width="1" height="23" fill="#00ff00"/>
<rect x="1246" y="206" width="3" height="6" fill="#00ff00"/>
<rect x="1251" y="209" width="1" height="6" fill="#00ff00"/>
<rect x="1250" y="210" width="3" height="2" fill="#00ff00"/>
<rect x="1255" y="192" width="1" height="27" fill="#00ff00"/>
<rect x="1254" y="193" width="3" height="26" fill="#00ff00"/>
<rect x="1259" y="211" width="1" height="25" fill="#00ff00"/>
<rect x="1258" y="218" width="3" height="9" fill="#00ff00"/>
<rect x="1263" y="211" width="1" height="16" fill="#ff0000"/>
<rect x="1262" y="218" width="3" height="9" fill="#ff0000"/>
<rect x="1267" y="217" width="1" height="26" fill="#00ff00"/>
<rect x="1266" y="219" width="3" height="24" fill="#00ff00"/>
<rect x="1271" y="228" width="1" height="39" fill="#00ff00"/>
<rect x="1270" y="242" width="3" height="18" fill="#00ff00"/>
<rect x="1275" y="253" width="1" height="12" fill="#00ff00"/>
<rect x="1274" y="259" width="3" height="6" fill="#00ff00"/>
<rect x="1279" y="258" width="1" height="38" fill="#00ff00"/>
<rect x="1278" y="263" width="3" height="26" fill="#00ff00"/>
<rect x="1283" y="262" width="1" height="50" fill="#00ff00"/>
<rect x="1282" y="287" width="3" height="24" fill="#00ff00"/>
<rect x="1287" y="294" width="1" height="38" fill="#00ff00"/>
<rect x="1286" y="310" width="3" height="20" fill="#00ff00"/>
<rect x="1291" y="303" width="1" height="29" fill="#ff0000"/>
<rect x="1290" y="310" width="3" height="20" fill="#ff0000"/>
<rect x="1295" y="286" width="1" height="27" fill="#00ff00"/>
<rect x="1294" y="310" width="3" height="3" fill="#00ff00"/>
<rect x="1299" y="312" width="1" height="5" fill="#00ff00"/>
<rect x="1298" y="312" width="3" height="4" fill="#00ff00"/>
<rect x="1303" y="318" width="1" height="27" fill="#00ff00"/>
<rect x="1302" y="321" width="3" height="23" fill="#00ff00"/>
</g>
<path fill="none" stroke="#ffa500" stroke-width="1" shape-rendering="crispEdges" d="M3 472.5h2M5 473.5h3M8 474.5h1M9 475.5h2M11.5 476v2M12.5 478v3M13.5 481v4M14.5 485v3M15.5 488v3M16.5 491v3M17.5 494v2M18.5 496v3M19.5 499v3M20.5 502v3M21.5 505v2M22.5 507v3M23.5 510v3M24.5 513v4M25.5 517v4M26.5 521v4M27.5 525v4M28.5 529v4M29.5 533v4M30.5 537v4M31.5 541v3M32 544.5h1M33 545.5h1M34 546.5h1M35 547.5h1M36.5 548v2M37.5 550v2M38.5 552v2M39 554.5h1M40 555.5h1M41 556.5h1M42 557.5h1M43 558.5h1M44 557.5h2M46 556.5h2M48.5 554v2M49.5 552v2M50.5 550v2M51 549.5h1M52 548.5h1M53 547.5h1M54 546.5h1M55 545.5h1M56 544.5h1M57 543.5h1M58 542.5h1M59 541.5h1M60 540.5h1M61 539.5h1M62 538.5h1M63 537.5h1M64 536.5h1M65 535.5h2M67 534.5h1M68 533.5h1M69 532.5h2M71 531.5h1M72 530.5h1M73 529.5h1M74 528.5h1M75 527.5h1M76.5 525v2M77 524.5h1M78.5 522v2M79 521.5h2M81 522.5h3M84 523.5h1M85 524.5h1M86 525.5h1M87 526.5h1M88 527.5h2M90 528.5h2M92 529.5h1M93 530.5h2M95 531.5h1M96 532.5h1M97.5 533v2M98 535.5h1M99 536.5h1M100 535.5h2M102 534.5h3M105 533.5h3M108 534.5h1M109 535.5h1M110 536.5h1M111 537.5h1M112 538.5h2M114 539.5h2M116 538.5h1M117 537.5h2M119 536.5h2M121 535.5h4M125 534.5h3M128 533.5h1M129.5 531v2M130 530.5h1M131 529.5h1M132.5 527v2M133 526.5h1M134.5 524v2M135 523.5h1M136 522.5h1M137 521.5h1M138 520.5h1M139 519.5h2M141 520.5h4M145 519.5h7M152 520.5h2M154 521.5h2M156.5 522v2M157 524.5h1M158.5 525v2M159 527.5h2M161 528.5h3M164 529.5h2M166 530.5h2M168 531.5h1M169 532.5h2M171 533.5h1M172 534.5h2M174 535.5h6M180 534.5h2M182 533.5h2M184 532.5h1M185 531.5h2M187 530.5h5M192 531.5h1M193 532.5h2M195 533.5h1M196 534.5h2M198 535.5h3M201 536.5h3M203 537.5h1M204.5 538v2M205.5 540v2M206.5 542v2M207.5 544v2M208 545.5h5M213 546.5h3M216 545.5h2M218 544.5h2M220 543.5h1M221 542.5h2M223.5 540v2M224.5 538v2M225.5 536v2M226.5 534v2M227.5 531v3M228.5 529v2M229.5 526v3M230.5 524v2M231.5 522v2M232 521.5h1M233.5 519v2M234 518.5h1M235 517.5h1M236 516.5h1M237.5 514v2M238 513.5h1M239 512.5h1M240 511.5h1M241 510.5h2M243 509.5h2M245 508.5h3M248 509.5h1M249.5 510v2M250 512.5h1M251 513.5h1M252 512.5h1M253 511.5h2M255 510.5h10M265 511.5h3M267.5 507v4M268.5 498v9M269.5 488v10M270.5 479v9M271.5 471v8M272.5 463v8M273.5 455v8M274.5 447v8M275.5 439v8M276.5 431v8M277.5 423v8M278.5 415v8M279.5 406v9M280.5 397v9M281.5 388v9M282.5 379v9M283.5 369v10M284.5 359v10M285.5 349v10M286.5 339v10M287.5 333v6M288.5 331v2M289.5 329v2M290.5 327v2M291 326.5h1M292.5 324v2M293.5 322v2M294.5 320v2M295 319.5h1M296.5 317v2M297 316.5h1M298.5 314v2M299 313.5h1M300 312.5h1M301 311.5h2M303 310.5h1M304 311.5h1M305 312.5h2M307 313.5h1M308 314.5h1M309.5 315v2M310 317.5h1M311 318.5h1M312.5 319v2M313 321.5h1M314.5 322v2M315 324.5h1M316 325.5h1M317.5 326v2M318 328.5h1M319 329.5h1M320 330.5h1M321 331.5h2M323 332.5h1M324 331.5h2M326 330.5h2M328 329.5h2M330 328.5h2M332 327.5h1M333 326.5h1M334 325.5h1M335 324.5h1M336 323.5h1M337.5 321v2M338 320.5h1M339 319.5h2M341 318.5h3M344 319.5h2M346 320.5h3M349 319.5h3M352 320.5h2M354 321.5h2M356 320.5h2M358 319.5h2M360 318.5h1M361 317.5h2M363 316.5h1M364 315.5h1M365 314.5h2M367 313.5h2M369 314.5h3M372 313.5h2M374 312.5h2M376 313.5h2M378 314.5h2M380 315.5h2M382 316.5h3M385 317.5h4M389 316.5h3M392 317.5h1M393.5 318v2M394 320.5h1M395 321.5h1M396 322.5h1M397.5 323v2M398 325.5h1M399.5 326v2M400.5 328v4M401.5 332v4M402.5 336v4M403.5 340v4M404.5 344v3M405.5 347v4M406.5 351v3M407.5 354v3M408.5 357v3M409.5 360v4M410.5 364v3M411.5 367v2M412.5 369v2M413 371.5h1M414.5 372v2M415 374.5h1M416.5 375v2M417 377.5h1M418.5 378v2M419 380.5h1M420 379.5h1M421.5 377v2M422 376.5h1M423 375.5h2M425 374.5h3M428 373.5h2M430 372.5h3M433 373.5h3M436 374.5h1M437 375.5h2M439 376.5h2M441 375.5h3M444 374.5h2M446 373.5h6M452.5 371v2M453 370.5h1M454.5 368v2M455 367.5h1M456.5 365v2M457 364.5h1M458.5 362v2M459 361.5h2M461 360.5h3M464 359.5h2M466 358.5h3M469 359.5h3M472 360.5h1M473.5 361v2M474 363.5h1M475 364.5h1M476 365.5h1M477 366.5h2M479 367.5h1M480 368.5h2M482 369.5h2M484 370.5h1M485 371.5h1M486 372.5h1M487 373.5h1M488 372.5h2M490 371.5h7M497 370.5h4M501 369.5h4M505 368.5h7M512 367.5h1M513 366.5h2M515 365.5h1M516 366.5h2M518 367.5h2M520 368.5h1M521 369.5h2M523 370.5h10M533 369.5h3M536 368.5h1M537 367.5h1M538 366.5h1M539 365.5h1M540 364.5h1M541 363.5h1M542 362.5h1M543 361.5h1M544 360.5h1M545 359.5h1M546 358.5h1M547.5 355v3M548.5 351v4M549.5 346v5M550.5 342v4M551.5 337v5M552.5 333v4M553.5 329v4M554.5 325v4M555.5 317v8M556.5 307v10M557.5 297v10M558.5 287v10M559.5 277v10M560.5 269v8M561.5 261v8M562.5 253v8M563.5 244v9M564.5 235v9M565.5 226v9M566.5 217v9M567.5 210v7M568.5 205v5M569.5 201v4M570.5 196v5M571.5 191v5M572.5 185v6M573.5 179v6M574.5 173v6M575.5 169v4M576 169.5h4M579 168.5h1M580.5 166v2M581.5 164v2M582.5 162v2M583.5 160v2M583 161.5h1M584.5 162v4M585.5 166v3M586.5 169v4M587.5 173v2M588 175.5h1M589 176.5h2M591.5 177v2M592.5 179v2M593.5 181v3M594.5 184v2M595.5 186v3M596.5 189v2M597.5 191v3M598.5 194v2M599.5 196v3M600.5 199v2M601.5 201v3M602.5 204v2M603.5 206v2M603 206.5h1M604.5 204v2M605.5 202v2M606.5 200v2M607.5 198v2M608 197.5h1M609 196.5h1M610 195.5h1M611 194.5h1M612 193.5h1M613 192.5h1M614 191.5h1M615 190.5h1M616.5 188v2M617.5 186v2M618.5 184v2M619.5 180v4M620.5 176v4M621.5 172v4M622.5 168v4M623.5 164v4M624.5 160v4M625.5 156v4M626.5 152v4M627.5 148v4M628.5 143v5M629.5 138v5M630.5 133v5M631.5 128v5M632.5 123v5M633.5 118v5M634.5 113v5M635.5 109v4M636.5 105v4M637.5 101v4M638.5 97v4M639.5 95v2M640 94.5h1M641 93.5h1M642 92.5h1M643 91.5h1M644 90.5h1M645.5 88v2M646 87.5h1M647 86.5h2M649 87.5h3M652 86.5h1M653 85.5h1M654 84.5h1M655 83.5h1M656 82.5h1M657 81.5h2M659 80.5h2M661 81.5h3M664 82.5h1M665.5 83v2M666 85.5h1M667.5 86v2M668.5 88v2M669.5 90v3M670.5 93v2M671.5 95v4M672.5 99v4M673.5 103v4M674.5 107v4M675.5 111v4M676.5 115v3M677.5 118v3M678.5 121v3M679.5 124v2M680.5 126v2M681 128.5h1M682.5 129v2M683 131.5h1M684 132.5h1M685.5 133v2M686 135.5h1M687.5 136v2M688.5 138v2M689.5 140v3M690.5 143v2M691.5 145v3M692.5 148v4M693.5 152v3M694.5 155v4M695.5 159v3M696.5 162v4M697.5 166v4M698.5 170v4M699.5 174v3M700.5 177v2M701.5 179v3M702.5 182v2M703.5 184v2M704.5 186v2M705 188.5h1M706.5 189v2M707 191.5h1M708 190.5h1M709 189.5h2M711.5 187v2M712.5 183v4M713.5 180v3M714.5 176v4M715.5 174v2M716.5 172v2M717.5 170v2M718.5 168v2M719.5 165v3M720.5 162v3M721.5 160v2M722.5 157v3M723.5 155v2M724 154.5h1M725.5 152v2M726 151.5h1M727 150.5h1M728.5 148v2M729 147.5h1M730.5 145v2M731 144.5h1M732.5 142v2M733.5 140v2M734.5 138v2M735.5 136v2M736.5 134v2M737.5 132v2M738.5 130v2M739.5 128v2M740 127.5h1M741 126.5h1M742 125.5h1M743 124.5h1M744.5 122v2M745 121.5h1M746.5 119v2M747 118.5h1M748.5 116v2M749 115.5h1M750.5 113v2M751 112.5h1M752 111.5h1M753 110.5h2M755 109.5h1M756 108.5h1M757 107.5h1M758 106.5h1M759 105.5h2M761 106.5h3M764.5 107v2M765.5 109v2M766.5 111v2M767 113.5h1M768.5 114v2M769 116.5h1M770.5 117v2M771 119.5h1M772 120.5h1M773 121.5h1M774 122.5h1M775 123.5h2M777 122.5h3M780 121.5h2M782 120.5h2M784 121.5h2M786 122.5h2M788 123.5h1M789.5 124v2M790 126.5h1M791.5 127v2M792.5 129v3M793.5 132v2M794.5 134v3M795.5 137v4M796.5 141v4M797.5 145v4M798.5 149v4M799.5 153v4M800.5 157v3M801.5 160v2M802.5 162v3M803.5 165v2M804 166.5h1M805 167.5h12M817 166.5h3M820 167.5h1M821 168.5h2M823 169.5h1M824 170.5h1M825.5 171v2M826 173.5h1M827 174.5h1M828 175.5h1M829 176.5h2M831 177.5h2M833 178.5h3M836 179.5h1M837 180.5h1M838 181.5h1M839 182.5h1M840 183.5h1M841 184.5h2M843 185.5h1M844 186.5h1M845 187.5h2M847 188.5h5M852 189.5h2M854 190.5h2M856 191.5h1M857 192.5h2M859 193.5h1M860 194.5h1M861 195.5h2M863 196.5h1M864 197.5h1M865 198.5h1M866 199.5h1M867 200.5h1M868.5 201v2M869.5 203v2M870.5 205v2M871.5 207v2M872.5 209v3M873.5 212v2M874.5 214v3M875.5 217v3M876.5 220v2M877.5 222v3M878.5 225v2M879.5 227v3M880.5 230v3M881.5 233v3M882.5 236v3M883.5 239v3M884.5 242v2M885.5 244v2M886.5 246v2M887.5 248v2M888.5 250v2M889.5 252v2M890.5 254v2M891.5 256v2M892 256.5h2M894 255.5h2M896 254.5h1M897 253.5h2M899.5 251v2M900.5 249v2M901.5 246v3M902.5 244v2M903.5 242v2M904.5 240v2M905.5 238v2M906.5 236v2M907 235.5h1M908 234.5h2M910 233.5h3M913 234.5h3M916 233.5h1M917 232.5h2M919 231.5h2M921 230.5h3M924 229.5h2M926 228.5h2M928.5 226v2M929 225.5h1M930.5 223v2M931 222.5h1M932.5 220v2M933.5 218v2M934.5 216v2M935.5 214v2M936 213.5h1M937 212.5h2M939 211.5h2M941 210.5h3M944 211.5h1M945 212.5h1M946 213.5h1M947 214.5h1M948 215.5h1M949 216.5h2M951 217.5h1M952 218.5h1M953 219.5h2M955 220.5h1M956 221.5h1M957 222.5h2M959 223.5h5M964 222.5h1M965.5 220v2M966 219.5h1M967.5 217v2M968.5 214v3M969.5 211v3M970.5 208v3M971.5 206v2M972 205.5h1M973 204.5h2M975 203.5h1M976 202.5h1M977 201.5h2M979 200.5h2M981 201.5h3M984 202.5h1M985 203.5h1M986 204.5h1M987 205.5h1M988.5 206v2M989.5 208v2M990.5 210v2M991 212.5h1M992 213.5h1M993 214.5h2M995 215.5h2M997 216.5h3M999 217.5h1M1000.5 218v3M1001.5 221v2M1002.5 223v3M1003.5 226v2M1004 228.5h2M1006 229.5h2M1008.5 230v2M1009.5 232v2M1010.5 234v2M1011.5 236v2M1012.5 238v2M1013.5 240v2M1014.5 242v2M1015.5 244v3M1016.5 247v2M1017.5 249v2M1018.5 251v2M1019.5 253v2M1020 253.5h1M1021.5 251v2M1022 250.5h1M1023 249.5h1M1024 250.5h1M1025 251.5h2M1027 252.5h2M1029 253.5h3M1032 252.5h1M1033 251.5h2M1035 250.5h1M1036 249.5h1M1037 248.5h2M1039 247.5h2M1041 246.5h4M1045 245.5h3M1048 246.5h2M1050 247.5h3M1053 248.5h3M1056 249.5h1M1057 250.5h1M1058 251.5h1M1059 252.5h1M1060.5 253v2M1061 255.5h1M1062.5 256v2M1063 258.5h1M1064.5 259v2M1065.5 261v2M1066.5 263v2M1067.5 265v2M1068.5 267v2M1069 269.5h1M1070.5 270v2M1071 272.5h1M1072.5 273v2M1073.5 275v2M1074.5 277v2M1075 279.5h1M1076.5 280v2M1077 282.5h1M1078.5 283v2M1079 285.5h1M1080 286.5h2M1082 287.5h3M1085 286.5h3M1088 287.5h1M1089 288.5h2M1091 289.5h1M1092 290.5h1M1093 291.5h2M1095 292.5h1M1096.5 293v2M1097.5 295v2M1098.5 297v2M1099.5 299v2M1100.5 301v2M1101.5 303v3M1102.5 306v2M1103.5 308v3M1104.5 311v3M1105.5 314v3M1106.5 317v3M1107.5 320v3M1108.5 323v3M1109.5 326v2M1110.5 328v3M1111.5 331v3M1112.5 334v3M1113.5 337v3M1114.5 340v3M1115.5 343v2M1116.5 345v2M1117.5 347v2M1118.5 349v2M1119.5 351v2M1120.5 353v2M1121.5 355v2M1122.5 357v2M1123.5 359v2M1124.5 361v2M1125.5 363v3M1126.5 366v2M1127.5 368v2M1128 370.5h1M1129 371.5h1M1130 372.5h1M1131 373.5h1M1132 374.5h1M1133 375.5h2M1135 376.5h1M1136 375.5h1M1137 374.5h2M1139 373.5h1M1140.5 371v2M1141.5 369v2M1142.5 367v2M1143.5 364v3M1144.5 360v4M1145.5 356v4M1146.5 352v4M1147.5 349v3M1148.5 346v3M1149.5 342v4M1150.5 339v3M1151.5 336v3M1152.5 333v3M1153.5 329v4M1154.5 326v3M1155.5 323v3M1156.5 319v4M1157.5 315v4M1158.5 311v4M1159.5 307v4M1160.5 304v3M1161.5 301v3M1162.5 298v3M1163.5 296v2M1164 295.5h1M1165.5 293v2M1166 292.5h1M1167.5 290v2M1168.5 286v4M1169.5 283v3M1170.5 279v4M1171.5 276v3M1172.5 273v3M1173.5 269v4M1174.5 266v3M1175.5 264v2M1176 263.5h1M1177 262.5h2M1179.5 260v2M1180.5 258v2M1181.5 256v2M1182.5 254v2M1183.5 252v2M1184 251.5h1M1185.5 249v2M1186 248.5h1M1187 247.5h1M1188.5 248v2M1189 250.5h1M1190.5 251v2M1191 253.5h1M1192 254.5h1M1193.5 255v2M1194 257.5h1M1195 258.5h2M1197 257.5h4M1201 258.5h4M1205 259.5h4M1209 260.5h4M1213 261.5h3M1216 262.5h1M1217 263.5h1M1218 264.5h1M1219 265.5h1M1220 266.5h2M1222 267.5h3M1225 266.5h3M1228 265.5h1M1229 264.5h2M1231 263.5h1M1232 262.5h1M1233.5 260v2M1234 259.5h1M1235 258.5h1M1236 257.5h1M1237.5 255v2M1238 254.5h1M1239.5 252v2M1240.5 250v2M1241.5 247v3M1242.5 245v2M1243.5 243v2M1244.5 241v2M1245.5 239v2M1246.5 237v2M1247.5 234v3M1248.5 231v3M1249.5 229v2M1250.5 226v3M1251.5 224v2M1252.5 222v2M1253 221.5h1M1254.5 219v2M1255 218.5h1M1256 217.5h1M1257 216.5h2M1259 215.5h1M1260 216.5h1M1261 217.5h2M1263 218.5h1M1264.5 219v2M1265 221.5h1M1266.5 222v2M1267.5 224v2M1268.5 226v2M1269.5 228v2M1270.5 230v2M1271.5 232v3M1272.5 235v2M1273.5 237v3M1274.5 240v2M1275.5 242v3M1276.5 245v3M1277.5 248v3M1278.5 251v3M1279.5 254v4M1280.5 258v4M1281.5 262v5M1282.5 267v4M1283.5 271v5M1284.5 276v4M1285.5 280v5M1286.5 285v4M1287.5 289v4M1288.5 293v2M1289.5 295v3M1290.5 298v2M1291.5 300v3M1292.5 303v2M1293.5 305v2M1294.5 307v2M1295.5 309v2M1296.5 311v2M1297 313.5h1M1298.5 314v2M1299 316.5h1M1300.5 317v2M1301 319.5h1M1302.5 320v2M1303 322.5h1"/>
<path fill="none" stroke="#ff0000" stroke-width="1" shape-rendering="crispEdges" d="M3 472.5h2M5 471.5h7M12 472.5h1M13 473.5h1M14 474.5h1M15 475.5h1M16 476.5h1M17 477.5h2M19 478.5h1M20 479.5h1M21.5 480v2M22 482.5h1M23 483.5h1M24 484.5h1M25.5 485v2M26 487.5h1M27 488.5h1M28.5 489v2M29.5 491v2M30.5 493v2M31.5 495v2M32.5 497v2M33.5 499v2M34.5 501v2M35 503.5h1M36.5 504v2M37.5 506v2M38.5 508v2M39.5 510v2M40.5 512v2M41 514.5h1M42.5 515v2M43 517.5h1M44 518.5h1M45.5 519v2M46 521.5h1M47 522.5h1M48 523.5h1M49 524.5h1M50 525.5h1M51 526.5h1M52 527.5h1M53.5 528v2M54 530.5h1M55 531.5h1M56 532.5h1M57.5 533v2M58 535.5h1M59 536.5h1M60 537.5h1M61 538.5h1M62 539.5h1M63 540.5h1M64 541.5h2M66 542.5h3M69 541.5h7M76 540.5h2M78 539.5h3M81 538.5h3M84 537.5h2M86 536.5h2M88 535.5h2M90 534.5h2M92 533.5h2M94 532.5h3M97 531.5h4M101 530.5h4M105 531.5h4M109 532.5h8M117 531.5h8M125 532.5h11M136 531.5h2M138 530.5h3M141 529.5h8M149 528.5h4M153 527.5h12M165 526.5h12M177 527.5h8M185 526.5h3M188 527.5h1M189 528.5h2M191 529.5h1M192 530.5h2M194 531.5h3M197 532.5h4M201 533.5h3M204 534.5h1M205 535.5h2M207 536.5h2M209 537.5h4M213 538.5h8M221 537.5h3M224 536.5h2M226 535.5h2M228 534.5h2M230 533.5h3M233 532.5h3M236 531.5h2M238 530.5h6M244 529.5h1M245 528.5h2M247 527.5h2M249 526.5h3M252 525.5h1M253 524.5h2M255 523.5h1M256 522.5h2M258 521.5h2M260 520.5h1M261 519.5h1M262 518.5h1M263 517.5h1M264 516.5h2M266 515.5h2M267 514.5h1M268.5 510v4M269.5 506v4M270.5 502v4M271.5 499v3M272.5 496v3M273.5 492v4M274.5 489v3M275.5 486v3M276.5 483v3M277.5 479v4M278.5 476v3M279.5 473v3M280.5 470v3M281.5 466v4M282.5 463v3M283.5 460v3M284.5 456v4M285.5 453v3M286.5 449v4M287.5 446v3M288.5 442v4M289.5 438v4M290.5 434v4M291.5 431v3M292.5 427v4M293.5 424v3M294.5 420v4M295.5 417v3M296.5 413v4M297.5 410v3M298.5 406v4M299.5 403v3M300.5 399v4M301.5 396v3M302.5 392v4M303.5 389v3M304.5 385v4M305.5 382v3M306.5 378v4M307.5 375v3M308.5 372v3M309.5 369v3M310.5 366v3M311.5 363v3M312.5 360v3M313.5 356v4M314.5 353v3M315.5 350v3M316.5 347v3M317.5 344v3M318.5 341v3M319.5 338v3M320.5 335v3M321.5 331v4M322.5 328v3M323.5 326v2M324 325.5h2M326 324.5h3M329 323.5h3M332 322.5h2M334 321.5h3M337 320.5h4M341 321.5h4M345 322.5h4M349 323.5h4M353 324.5h4M357 323.5h4M361 322.5h3M364 321.5h2M366 320.5h3M369 319.5h4M373 318.5h4M377 317.5h8M385 316.5h7M392 317.5h2M394 318.5h2M396 319.5h2M398 320.5h2M400 321.5h1M401.5 322v2M402 324.5h1M403 325.5h1M404 326.5h1M405 327.5h1M406 328.5h1M407 329.5h1M408 330.5h1M409 331.5h1M410 332.5h1M411 333.5h1M412 334.5h1M413.5 335v2M414 337.5h1M415 338.5h1M416 339.5h1M417.5 340v2M418 342.5h1M419 343.5h1M420 344.5h1M421 345.5h1M422 346.5h1M423 347.5h1M424 348.5h1M425 349.5h2M427 350.5h1M428 351.5h1M429.5 352v2M430 354.5h1M431 355.5h1M432 356.5h1M433 357.5h1M434 358.5h1M435 359.5h1M436 360.5h1M437.5 361v2M438 363.5h1M439 364.5h1M440 365.5h1M441 366.5h1M442 367.5h1M443 368.5h1M444 369.5h1M445 370.5h2M447 371.5h1M448 372.5h2M450 373.5h6M456 372.5h2M458 371.5h3M461 370.5h3M464 369.5h1M465 368.5h2M467 367.5h2M469 368.5h20M489 367.5h4M493 366.5h16M509 367.5h4M513 368.5h4M517 369.5h3M520 370.5h2M522 371.5h3M525 370.5h4M529 369.5h4M533 368.5h4M537 367.5h7M544 366.5h2M546 365.5h2M548.5 363v2M549.5 361v2M550.5 359v2M551 358.5h1M552.5 356v2M553.5 354v2M554.5 352v2M555.5 350v2M556.5 346v4M557.5 342v4M558.5 338v4M559.5 335v3M560.5 332v3M561.5 329v3M562.5 326v3M563.5 323v3M564.5 319v4M565.5 315v4M566.5 311v4M567.5 308v3M568.5 305v3M569.5 301v4M570.5 298v3M571.5 295v3M572.5 291v4M573.5 287v4M574.5 283v4M575.5 279v4M576.5 275v4M577.5 271v4M578.5 267v4M579.5 263v4M580.5 259v4M581.5 255v4M582.5 251v4M583.5 248v3M584.5 246v2M585.5 243v3M586.5 241v2M587.5 238v3M588.5 235v3M589.5 233v2M590.5 230v3M591.5 227v3M592.5 224v3M593.5 222v2M594.5 219v3M595.5 216v3M596.5 213v3M597.5 210v3M598.5 207v3M599.5 204v3M600.5 202v2M601.5 199v3M602.5 197v2M603.5 195v2M604.5 193v2M605 192.5h1M606.5 190v2M607 189.5h1M608.5 187v2M609.5 185v2M610.5 183v2M611 182.5h1M612 183.5h2M614 184.5h2M616 183.5h2M618 182.5h2M620 181.5h1M621 180.5h2M623 179.5h1M624 178.5h1M625.5 176v2M626 175.5h1M627 174.5h1M628.5 172v2M629 171.5h1M630.5 169v2M631 168.5h1M632 167.5h1M633.5 165v2M634 164.5h1M635 163.5h1M636 162.5h1M637.5 160v2M638 159.5h1M639.5 157v2M640.5 155v2M641.5 153v2M642.5 151v2M643.5 149v2M644.5 147v2M645.5 145v2M646.5 143v2M647.5 141v2M648.5 139v2M649.5 137v2M650.5 135v2M651.5 132v3M652.5 130v2M653.5 127v3M654.5 125v2M655.5 122v3M656.5 120v2M657.5 117v3M658.5 115v2M659.5 113v2M660.5 111v2M661 110.5h1M662.5 108v2M663 107.5h1M664 106.5h1M665.5 104v2M666 103.5h1M667 102.5h1M668 101.5h1M669 100.5h2M671 99.5h2M673 98.5h4M677 99.5h4M681 100.5h3M684 101.5h1M685 102.5h1M686 103.5h1M687 104.5h1M688.5 105v2M689.5 107v2M690.5 109v2M691.5 111v3M692.5 114v2M693.5 116v2M694.5 118v2M695.5 120v2M696.5 122v2M697.5 124v2M698.5 126v2M699.5 128v2M700.5 130v2M701.5 132v2M702.5 134v2M703 136.5h1M704 137.5h1M705.5 138v2M706 140.5h1M707 141.5h1M708.5 142v2M709.5 144v2M710.5 146v2M711.5 148v2M712.5 150v2M713 152.5h1M714.5 153v2M715 155.5h1M716 156.5h1M717 157.5h1M718 158.5h1M719 159.5h1M720 160.5h2M722 161.5h7M729 160.5h4M733 159.5h4M737 158.5h4M741 157.5h3M744.5 155v2M745 154.5h1M746.5 152v2M747 151.5h1M748.5 149v2M749.5 147v2M750.5 145v2M751.5 143v2M752.5 141v2M753.5 139v2M754.5 137v2M755.5 135v2M756.5 133v2M757 132.5h1M758.5 130v2M759 129.5h1M760 128.5h1M761 127.5h2M763 126.5h1M764 125.5h2M766 124.5h3M769 123.5h3M772 122.5h1M773 121.5h2M775 120.5h1M776 119.5h1M777 118.5h2M779 117.5h1M780 116.5h2M782 115.5h3M785 116.5h3M788 117.5h1M789 118.5h1M790 119.5h1M791 120.5h1M792 121.5h1M793 122.5h2M795 123.5h1M796 124.5h1M797.5 125v2M798 127.5h1M799 128.5h1M800 129.5h1M801.5 130v2M802 132.5h1M803 133.5h1M804 134.5h1M805 135.5h2M807 136.5h1M808 137.5h1M809.5 138v2M810 140.5h1M811 141.5h1M812 142.5h1M813.5 143v2M814 145.5h1M815 146.5h1M816 147.5h1M817 148.5h1M818 149.5h1M819 150.5h1M820 151.5h1M821 152.5h2M823 153.5h1M824 154.5h2M826 155.5h2M828 156.5h1M829.5 157v2M830 159.5h1M831 160.5h1M832.5 161v2M833 163.5h1M834.5 164v2M835 166.5h1M836.5 167v2M837 169.5h1M838.5 170v2M839 172.5h1M840 173.5h1M841 174.5h2M843 175.5h1M844 176.5h2M846 177.5h3M849 178.5h7M856 179.5h1M857 180.5h2M859 181.5h1M860 182.5h1M861.5 183v2M862 185.5h1M863 186.5h1M864 187.5h2M866 188.5h2M868 189.5h1M869 190.5h1M870 191.5h1M871 192.5h1M872 193.5h1M873.5 194v2M874 196.5h1M875 197.5h1M876 198.5h1M877.5 199v2M878 201.5h1M879 202.5h1M880.5 203v2M881.5 205v2M882.5 207v2M883 209.5h1M884 210.5h1M885.5 211v2M886 213.5h1M887 214.5h1M888.5 215v2M889 217.5h1M890.5 218v2M891 220.5h1M892 221.5h1M893 222.5h2M895 223.5h1M896 224.5h1M897 225.5h2M899 226.5h1M900 227.5h1M901 228.5h2M903 229.5h1M904 230.5h2M906 231.5h2M908 232.5h1M909 233.5h1M910 234.5h1M911 235.5h1M912 236.5h1M913 237.5h2M915 238.5h2M917 239.5h11M928 238.5h2M930 237.5h2M932 236.5h1M933 235.5h1M934 234.5h1M935 233.5h1M936 232.5h1M937.5 230v2M938 229.5h1M939 228.5h1M940 227.5h2M942 226.5h2M944 225.5h1M945 224.5h2M947 223.5h6M953 222.5h4M957 221.5h7M964 220.5h1M965 219.5h2M967 218.5h1M968 217.5h1M969.5 215v2M970 214.5h1M971 213.5h2M973 212.5h4M977 211.5h8M985 212.5h8M993 213.5h7M1000 214.5h1M1001 215.5h2M1003 216.5h5M1008 217.5h2M1010 218.5h2M1012 219.5h1M1013 220.5h2M1015 221.5h1M1016 222.5h1M1017 223.5h2M1019 224.5h1M1020 225.5h1M1021 226.5h2M1023 227.5h1M1024.5 228v2M1025 230.5h1M1026.5 231v2M1027 233.5h1M1028 234.5h1M1029 235.5h2M1031 236.5h1M1032 237.5h1M1033 238.5h2M1035 239.5h2M1037 240.5h3M1040 241.5h2M1042 242.5h2M1044 243.5h1M1045 244.5h2M1047 245.5h1M1048 246.5h2M1050 247.5h2M1052 248.5h1M1053 249.5h2M1055 250.5h2M1057 249.5h3M1060 250.5h1M1061 251.5h2M1063 252.5h1M1064 253.5h1M1065 254.5h2M1067 255.5h1M1068 256.5h2M1070 257.5h2M1072 258.5h1M1073 259.5h2M1075 260.5h1M1076 261.5h2M1078 262.5h2M1080 263.5h1M1081 264.5h2M1083 265.5h1M1084 266.5h2M1086 267.5h2M1088 268.5h1M1089 269.5h1M1090 270.5h1M1091 271.5h1M1092 272.5h1M1093 273.5h1M1094 274.5h1M1095 275.5h1M1096.5 276v2M1097 278.5h1M1098.5 279v2M1099 281.5h1M1100.5 282v2M1101 284.5h1M1102.5 285v2M1103 287.5h1M1104.5 288v2M1105 290.5h1M1106.5 291v2M1107 293.5h1M1108.5 294v2M1109.5 296v2M1110.5 298v2M1111.5 300v2M1112.5 302v2M1113.5 304v2M1114.5 306v2M1115 308.5h1M1116.5 309v2M1117.5 311v2M1118.5 313v2M1119 315.5h1M1120.5 316v2M1121 318.5h1M1122.5 319v2M1123 321.5h1M1124.5 322v2M1125.5 324v2M1126.5 326v2M1127 328.5h1M1128.5 329v2M1129 331.5h1M1130.5 332v2M1131 334.5h1M1132.5 335v2M1133.5 337v2M1134.5 339v2M1135 341.5h1M1136 342.5h1M1137 343.5h1M1138 344.5h1M1139 345.5h1M1140 346.5h1M1141 347.5h1M1142 348.5h1M1143 349.5h2M1145 350.5h11M1156 349.5h1M1157.5 347v2M1158 346.5h1M1159 345.5h1M1160 344.5h1M1161.5 342v2M1162 341.5h1M1163 340.5h1M1164 339.5h1M1165.5 337v2M1166 336.5h1M1167.5 334v2M1168.5 332v2M1169.5 330v2M1170.5 328v2M1171.5 326v2M1172.5 324v2M1173.5 322v2M1174.5 320v2M1175.5 318v2M1176.5 316v2M1177.5 314v2M1178.5 312v2M1179.5 309v3M1180.5 306v3M1181.5 304v2M1182.5 301v3M1183.5 298v3M1184.5 296v2M1185.5 294v2M1186.5 292v2M1187.5 290v2M1188.5 288v2M1189.5 286v2M1190.5 284v2M1191 283.5h1M1192 282.5h1M1193.5 280v2M1194 279.5h1M1195 278.5h1M1196.5 276v2M1197.5 274v2M1198.5 272v2M1199 271.5h1M1200 270.5h1M1201.5 268v2M1202 267.5h1M1203 266.5h1M1204 265.5h1M1205 264.5h1M1206 263.5h1M1207 262.5h1M1208 261.5h2M1210 260.5h3M1213 261.5h4M1217 260.5h3M1220 259.5h2M1222 258.5h7M1229 259.5h8M1237 260.5h3M1240 259.5h1M1241 258.5h1M1242 257.5h1M1243 256.5h1M1244 255.5h1M1245 254.5h1M1246 253.5h1M1247 252.5h1M1248 251.5h1M1249.5 249v2M1250 248.5h1M1251 247.5h2M1253 246.5h4M1257 245.5h3M1260 244.5h1M1261 243.5h1M1262 242.5h1M1263 241.5h1M1264 240.5h2M1266 239.5h3M1269 238.5h7M1276 239.5h2M1278 240.5h2M1280 241.5h1M1281 242.5h1M1282 243.5h1M1283 244.5h1M1284 245.5h1M1285.5 246v2M1286 248.5h1M1287 249.5h1M1288 250.5h1M1289 251.5h1M1290 252.5h1M1291 253.5h1M1292 254.5h1M1293.5 255v2M1294 257.5h1M1295 258.5h1M1296.5 259v2M1297.5 261v2M1298.5 263v2M1299.5 265v3M1300.5 268v2M1301.5 270v2M1302.5 272v2M1303.5 274v2"/>
<path fill="none" stroke="#0000cd" stroke-width="1" shape-rendering="crispEdges" d="M3 476.5h6M9 477.5h3M12 478.5h1M13 479.5h2M15 480.5h1M16 481.5h2M18 482.5h2M20 483.5h2M22 484.5h2M24 485.5h1M25 486.5h2M27 487.5h1M28 488.5h1M29 489.5h1M30 490.5h1M31 491.5h1M32 492.5h1M33 493.5h1M34 494.5h1M35 495.5h1M36 496.5h1M37 497.5h2M39 498.5h1M40 499.5h1M41 500.5h2M43 501.5h1M44 502.5h2M46 503.5h3M49 504.5h4M53 505.5h16M69 506.5h3M72 507.5h2M74 508.5h3M77 509.5h3M80 510.5h2M82 511.5h2M84 512.5h2M86 513.5h2M88 514.5h2M90 515.5h2M92 516.5h2M94 517.5h2M96 518.5h1M97 519.5h2M99 520.5h1M100 521.5h2M102 522.5h2M104 523.5h1M105 524.5h2M107 525.5h1M108 526.5h2M110 527.5h2M112 528.5h1M113 529.5h2M115 530.5h2M117 531.5h3M120 532.5h2M122 533.5h2M124 534.5h2M126 535.5h3M129 536.5h4M133 535.5h8M141 534.5h7M148 533.5h2M150 532.5h3M153 531.5h4M157 530.5h4M161 529.5h8M169 530.5h4M173 529.5h20M193 530.5h4M197 531.5h8M205 532.5h8M213 533.5h8M221 532.5h7M228 531.5h2M230 530.5h3M233 529.5h8M241 528.5h4M245 527.5h16M261 526.5h7M268.5 524v2M269 523.5h1M270.5 521v2M271 520.5h1M272.5 518v2M273 517.5h1M274.5 515v2M275 514.5h1M276.5 512v2M277.5 510v2M278.5 508v2M279 507.5h1M280.5 505v2M281 504.5h1M282.5 502v2M283 501.5h1M284.5 499v2M285.5 497v2M286.5 495v2M287.5 493v2M288.5 491v2M289.5 489v2M290.5 487v2M291.5 485v2M292.5 483v2M293.5 481v2M294.5 479v2M295 478.5h1M296.5 476v2M297.5 474v2M298.5 472v2M299 471.5h1M300.5 469v2M301.5 467v2M302.5 465v2M303.5 463v2M304.5 461v2M305 460.5h1M306.5 458v2M307 457.5h1M308.5 455v2M309.5 453v2M310.5 451v2M311 450.5h1M312.5 448v2M313.5 446v2M314.5 444v2M315 443.5h1M316.5 441v2M317.5 439v2M318.5 437v2M319 436.5h1M320.5 434v2M321.5 432v2M322.5 430v2M323 429.5h1M324.5 427v2M325.5 425v2M326.5 423v2M327.5 421v2M328.5 419v2M329.5 417v2M330.5 415v2M331 414.5h1M332.5 412v2M333.5 410v2M334.5 408v2M335.5 406v2M336.5 404v2M337.5 402v2M338.5 400v2M339 399.5h1M340.5 397v2M341.5 395v2M342.5 393v2M343 392.5h1M344.5 390v2M345 389.5h1M346.5 387v2M347 386.5h1M348.5 384v2M349 383.5h1M350.5 381v2M351 380.5h1M352.5 378v2M353.5 376v2M354.5 374v2M355 373.5h1M356.5 371v2M357 370.5h1M358.5 368v2M359 367.5h1M360.5 365v2M361.5 363v2M362.5 361v2M363 360.5h1M364.5 358v2M365.5 356v2M366.5 354v2M367 353.5h1M368.5 351v2M369 350.5h1M370.5 348v2M371 347.5h1M372.5 345v2M373 344.5h1M374.5 342v2M375 341.5h1M376.5 339v2M377.5 337v2M378.5 335v2M379 334.5h1M380.5 332v2M381.5 330v2M382.5 328v2M383 327.5h1M384.5 325v2M385 324.5h1M386.5 322v2M387 321.5h2M389 320.5h11M400 321.5h2M402 322.5h2M404 323.5h1M405 324.5h2M407 325.5h1M408 326.5h2M410 327.5h2M412 328.5h2M414 329.5h2M416 330.5h2M418 331.5h2M420 332.5h2M422 333.5h2M424 334.5h2M426 335.5h3M429 336.5h3M432 337.5h2M434 338.5h3M437 339.5h4M441 340.5h3M444 341.5h2M446 342.5h2M448 343.5h2M450 344.5h3M453 345.5h4M457 346.5h4M461 347.5h4M465 348.5h3M468 349.5h2M470 350.5h2M472 351.5h2M474 352.5h2M476 353.5h2M478 354.5h2M480 355.5h2M482 356.5h2M484 357.5h2M486 358.5h2M488 359.5h2M490 360.5h2M492 361.5h2M494 362.5h3M497 363.5h3M500 364.5h2M502 365.5h2M504 366.5h2M506 367.5h2M508 368.5h2M510 369.5h7M517 370.5h8M525 369.5h8M533 368.5h12M545 367.5h3M548 366.5h1M549 365.5h1M550 364.5h1M551 363.5h1M552 362.5h1M553 361.5h2M555 360.5h1M556.5 358v2M557.5 356v2M558.5 354v2M559.5 352v2M560.5 350v2M561 349.5h1M562.5 347v2M563 346.5h1M564.5 344v2M565 343.5h1M566.5 341v2M567 340.5h1M568.5 338v2M569.5 336v2M570.5 334v2M571 333.5h1M572.5 331v2M573 330.5h1M574.5 328v2M575 327.5h1M576.5 325v2M577.5 323v2M578.5 321v2M579 320.5h1M580.5 318v2M581.5 316v2M582.5 314v2M583 313.5h1M584 312.5h1M585 311.5h1M586 310.5h1M587 309.5h1M588.5 307v2M589 306.5h1M590.5 304v2M591 303.5h1M592.5 301v2M593 300.5h1M594.5 298v2M595 297.5h1M596 296.5h1M597.5 294v2M598 293.5h1M599 292.5h1M600.5 290v2M601 289.5h1M602.5 287v2M603 286.5h1M604.5 284v2M605 283.5h1M606.5 281v2M607 280.5h1M608.5 278v2M609.5 276v2M610.5 274v2M611 273.5h1M612.5 271v2M613 270.5h1M614.5 268v2M615 267.5h1M616.5 265v2M617.5 263v2M618.5 261v2M619 260.5h1M620.5 258v2M621.5 256v2M622.5 254v2M623.5 252v2M624.5 250v2M625.5 248v2M626.5 246v2M627.5 243v3M628.5 241v2M629.5 238v3M630.5 236v2M631.5 233v3M632.5 231v2M633.5 229v2M634.5 227v2M635.5 224v3M636.5 222v2M637.5 219v3M638.5 217v2M639.5 214v3M640.5 212v2M641.5 210v2M642.5 208v2M643.5 205v3M644.5 203v2M645.5 200v3M646.5 198v2M647.5 195v3M648.5 193v2M649.5 191v2M650.5 189v2M651.5 186v3M652.5 184v2M653.5 181v3M654.5 179v2M655.5 176v3M656.5 174v2M657.5 171v3M658.5 169v2M659.5 167v2M660.5 165v2M661.5 163v2M662.5 161v2M663.5 159v2M664.5 157v2M665.5 155v2M666.5 153v2M667.5 151v2M668 150.5h1M669.5 148v2M670 147.5h1M671 146.5h1M672 145.5h1M673 144.5h1M674 143.5h1M675 142.5h2M677 141.5h3M680 140.5h2M682 139.5h3M685 138.5h7M692 139.5h1M693 140.5h2M695 141.5h2M697 142.5h3M700 143.5h2M702 144.5h2M704 143.5h1M705 142.5h2M707 141.5h2M709 140.5h4M713 139.5h3M716 138.5h2M718 137.5h2M720 136.5h2M722 135.5h2M724 134.5h2M726 133.5h3M729 132.5h3M732 131.5h2M734 130.5h2M736 129.5h2M738 128.5h11M749 129.5h8M757 130.5h4M761 131.5h4M765 132.5h3M768 133.5h2M770 134.5h2M772 135.5h2M774 136.5h3M777 137.5h8M785 138.5h4M789 139.5h4M793 140.5h3M796 141.5h2M798 142.5h3M801 143.5h11M812 142.5h2M814 141.5h3M817 140.5h8M825 141.5h8M833 142.5h4M837 143.5h3M840 144.5h2M842 145.5h2M844 146.5h2M846 147.5h3M849 148.5h3M852 149.5h1M853 150.5h2M855 151.5h1M856 152.5h1M857 153.5h2M859 154.5h1M860 155.5h1M861 156.5h2M863 157.5h1M864 158.5h1M865 159.5h2M867 160.5h1M868 161.5h1M869 162.5h1M870 163.5h1M871 164.5h1M872 165.5h1M873.5 166v2M874 168.5h1M875 169.5h1M876 170.5h1M877.5 171v2M878 173.5h1M879 174.5h1M880 175.5h1M881.5 176v2M882 178.5h1M883 179.5h1M884 180.5h1M885 181.5h1M886 182.5h1M887 183.5h1M888 184.5h1M889 185.5h1M890 186.5h1M891 187.5h1M892 188.5h1M893 189.5h1M894 190.5h1M895 191.5h1M896 192.5h1M897.5 193v2M898 195.5h1M899 196.5h1M900 197.5h1M901 198.5h1M902 199.5h1M903 200.5h1M904 201.5h2M906 202.5h2M908 203.5h1M909 204.5h2M911 205.5h1M912 206.5h2M914 207.5h3M917 208.5h3M920 209.5h2M922 210.5h2M924 211.5h2M926 212.5h2M928 213.5h2M930 214.5h3M933 215.5h4M937 216.5h4M941 217.5h3M944 218.5h2M946 219.5h2M948 220.5h2M950 221.5h3M953 222.5h4M957 223.5h8M965 224.5h20M985 225.5h4M989 224.5h4M993 223.5h4M997 222.5h8M1005 221.5h8M1013 222.5h8M1021 223.5h4M1025 224.5h12M1037 225.5h4M1041 226.5h4M1045 227.5h3M1048 228.5h2M1050 229.5h3M1053 230.5h3M1056 231.5h2M1058 232.5h2M1060 233.5h2M1062 234.5h2M1064 235.5h2M1066 236.5h2M1068 237.5h2M1070 238.5h2M1072 239.5h2M1074 240.5h2M1076 241.5h2M1078 242.5h2M1080 243.5h1M1081 244.5h2M1083 245.5h1M1084 246.5h2M1086 247.5h2M1088 248.5h1M1089 249.5h1M1090 250.5h1M1091 251.5h1M1092 252.5h1M1093 253.5h1M1094 254.5h1M1095 255.5h1M1096 256.5h1M1097 257.5h1M1098 258.5h1M1099 259.5h1M1100 260.5h1M1101 261.5h1M1102 262.5h1M1103 263.5h1M1104 264.5h1M1105 265.5h2M1107 266.5h1M1108.5 267v2M1109 269.5h1M1110.5 270v2M1111 272.5h1M1112 273.5h1M1113 274.5h1M1114 275.5h1M1115 276.5h1M1116 277.5h1M1117.5 278v2M1118 280.5h1M1119 281.5h1M1120 282.5h1M1121 283.5h1M1122 284.5h1M1123 285.5h1M1124 286.5h1M1125.5 287v2M1126 289.5h1M1127 290.5h1M1128 291.5h1M1129 292.5h1M1130 293.5h1M1131 294.5h1M1132 295.5h1M1133 296.5h1M1134 297.5h1M1135 298.5h1M1136 299.5h1M1137 300.5h2M1139 301.5h1M1140 302.5h1M1141 303.5h2M1143 304.5h1M1144 305.5h2M1146 306.5h2M1148 307.5h2M1150 308.5h2M1152 309.5h1M1153 310.5h2M1155 311.5h6M1161 312.5h3M1164 313.5h2M1166 314.5h3M1169 313.5h11M1180 312.5h2M1182 311.5h7M1189 310.5h7M1196 309.5h2M1198 308.5h3M1201 307.5h4M1205 306.5h4M1209 305.5h4M1213 304.5h3M1216 303.5h2M1218 302.5h2M1220 301.5h2M1222 300.5h2M1224 299.5h1M1225 298.5h2M1227 297.5h1M1228 296.5h1M1229 295.5h2M1231 294.5h1M1232 293.5h1M1233 292.5h1M1234 291.5h1M1235 290.5h1M1236 289.5h1M1237 288.5h1M1238 287.5h1M1239 286.5h1M1240.5 284v2M1241 283.5h1M1242.5 281v2M1243 280.5h1M1244 279.5h1M1245.5 277v2M1246 276.5h1M1247 275.5h1M1248.5 273v2M1249 272.5h1M1250.5 270v2M1251 269.5h1M1252 268.5h1M1253.5 266v2M1254 265.5h1M1255 264.5h1M1256 263.5h1M1257 262.5h1M1258 261.5h1M1259 260.5h1M1260 259.5h1M1261 258.5h1M1262 257.5h1M1263 256.5h1M1264 255.5h2M1266 254.5h2M1268 253.5h2M1270 252.5h2M1272 251.5h2M1274 250.5h3M1277 251.5h4M1281 252.5h3M1284 253.5h2M1286 254.5h2M1288 255.5h2M1290 256.5h2M1292 257.5h2M1294 258.5h2M1296 259.5h2M1298 260.5h2M1300 261.5h1M1301 262.5h1M1302 263.5h1M1303 264.5h1"/>
<g shape-rendering="crispEdges">
<rect x="3" y="44" width="1636" height="2" fill="#ff0000"/>
<rect x="3" y="146" width="1636" height="2" fill="#ff0000"/>
<rect x="3" y="246" width="1636" height="2" fill="#00ff00"/>
<rect x="3" y="364" width="1636" height="2" fill="#0000ff"/>
<rect x="3" y="485" width="1636" height="2" fill="#0000ff"/>
</g>
<g shape-rendering="crispEdges">
<line x1="4" y1="626.5" x2="1639" y2="626.5" stroke="#c0c0c0" stroke-width="1" stroke-dasharray="3,3"/>
<line x1="4" y1="667.5" x2="1639" y2="667.5" stroke="#c0c0c0" stroke-width="1" stroke-dasharray="3,3"/>
</g>
<path fill="none" stroke="#1e90ff" stroke-width="1" shape-rendering="crispEdges" d="M3 654.5h1M4 653.5h1M5 652.5h1M6 651.5h1M7 650.5h1M8.5 651v2M9 653.5h1M10.5 654v2M11.5 656v2M12.5 658v4M13.5 662v4M14.5 666v4M15.5 670v2M16 670.5h1M17.5 668v2M18 667.5h1M19 666.5h1M20 667.5h2M22 668.5h2M24 669.5h1M25 670.5h2M27 671.5h1M28 672.5h1M29 673.5h1M30 674.5h1M31 675.5h1M32.5 673v2M33.5 671v2M34.5 669v2M35.5 667v2M36 668.5h2M38 669.5h2M40.5 667v2M41 666.5h1M42.5 664v2M43 663.5h1M44 662.5h1M45.5 660v2M46 659.5h1M47 658.5h1M48 657.5h1M49 656.5h2M51 655.5h2M53 656.5h3M56 657.5h2M58 658.5h2M60 657.5h1M61.5 655v2M62 654.5h1M63 653.5h1M64 652.5h1M65 651.5h1M66 650.5h1M67 649.5h2M69 648.5h4M73 647.5h4M77 646.5h3M79 647.5h1M80.5 648v2M81.5 650v2M82.5 652v2M83.5 654v2M84 655.5h1M85 656.5h3M88.5 654v2M89 653.5h1M90.5 651v2M91 650.5h1M92 651.5h1M93 652.5h2M95 653.5h5M100 652.5h1M101.5 650v2M102 649.5h1M103 648.5h1M104 649.5h1M105 650.5h1M106 651.5h1M107 652.5h1M108 653.5h1M109.5 654v2M110 656.5h1M111 657.5h1M112 656.5h1M113 655.5h1M114 654.5h1M115 653.5h1M116.5 651v2M117.5 649v2M118.5 647v2M119.5 645v2M120 645.5h4M124 646.5h1M125 647.5h1M126 648.5h1M127 649.5h1M128 648.5h1M129 647.5h2M131 646.5h1M132.5 644v2M133 643.5h1M134.5 641v2M135 640.5h2M137 639.5h3M139 640.5h1M140.5 641v2M141.5 643v2M142.5 645v2M143.5 647v2M144 648.5h1M145 647.5h4M149 648.5h3M152 647.5h1M153 646.5h1M154 645.5h1M155 644.5h1M156.5 645v2M157.5 647v2M158.5 649v2M159 651.5h2M161 650.5h4M165 651.5h4M169 652.5h3M172 651.5h1M173.5 649v2M174 648.5h1M175 647.5h1M176 648.5h2M178 649.5h2M180 648.5h1M181 647.5h2M183 646.5h1M184 645.5h1M185 644.5h2M187.5 643v2M188.5 645v2M189.5 647v2M190.5 649v2M191.5 651v2M192 652.5h1M193 653.5h4M197 654.5h3M200.5 652v2M201 651.5h1M202.5 649v2M203.5 648v2M204.5 650v3M205.5 653v2M206.5 655v3M207.5 658v2M207 658.5h1M208.5 656v2M209.5 653v3M210.5 651v2M211.5 649v2M212 649.5h1M213 650.5h3M216 649.5h1M217 648.5h2M219 647.5h1M220 646.5h1M221.5 644v2M222 643.5h1M223 642.5h1M224 641.5h2M226 640.5h2M228.5 638v2M229 637.5h1M230.5 635v2M231 634.5h1M232.5 635v2M233.5 637v2M234.5 639v2M235.5 641v2M236 641.5h2M238 640.5h7M245 639.5h3M248.5 640v2M249 642.5h1M250.5 643v2M251 645.5h1M252.5 643v2M253 642.5h1M254.5 640v2M255 639.5h1M256 640.5h1M257 641.5h2M259 642.5h2M261 643.5h4M265 642.5h3M267.5 639v3M268.5 632v7M269.5 625v7M270.5 618v7M271.5 614v4M272 615.5h1M273 616.5h1M274 617.5h1M275 618.5h2M277 617.5h4M281 616.5h3M284 615.5h2M286 614.5h6M292 615.5h2M294 616.5h2M296 617.5h2M298 618.5h3M301 619.5h3M304 620.5h2M306 621.5h2M308 622.5h1M309 623.5h1M310 624.5h1M311 625.5h2M313 626.5h3M316 627.5h2M318 628.5h2M320 627.5h2M322 626.5h2M324 625.5h2M326 624.5h2M328 625.5h1M329 626.5h2M331 627.5h2M333 626.5h7M340 627.5h1M341 628.5h2M343 629.5h9M352 630.5h1M353 631.5h2M355 632.5h1M356 631.5h1M357.5 629v2M358 628.5h1M359 627.5h2M361 626.5h3M364 627.5h2M366 628.5h2M367 629.5h1M368.5 630v2M369.5 632v2M370.5 634v2M371.5 636v2M372 636.5h2M374 635.5h3M377 634.5h4M381 633.5h4M385 634.5h4M389 635.5h3M391 636.5h1M392.5 637v4M393.5 641v3M394.5 644v4M395.5 648v2M396 649.5h4M399 650.5h1M400.5 651v4M401.5 655v3M402.5 658v4M403.5 662v2M404 662.5h1M405.5 660v2M406 659.5h1M407 658.5h1M408 659.5h2M410 660.5h2M412 659.5h1M413 658.5h1M414 657.5h1M415 656.5h1M416 655.5h2M418 654.5h3M421 653.5h4M425 654.5h3M428 655.5h2M430 656.5h6M436 657.5h1M437 658.5h2M439.5 658v2M440.5 656v2M441.5 653v3M442.5 651v2M443.5 649v2M444 649.5h1M445 648.5h3M448 649.5h1M449 650.5h1M450 651.5h1M451.5 651v2M452.5 649v2M453.5 647v2M454.5 645v2M455.5 643v2M456 643.5h1M457 644.5h3M460 645.5h1M461 646.5h2M463 647.5h1M464 646.5h2M466 645.5h2M468.5 646v2M469.5 648v2M470.5 650v2M471.5 652v2M472 653.5h4M476 652.5h1M477 651.5h1M478 650.5h1M479 649.5h2M481 650.5h4M485 651.5h3M488 650.5h2M490 649.5h2M492 650.5h1M493 651.5h2M495 652.5h1M496 651.5h1M497.5 649v2M498 648.5h1M499 647.5h6M505 648.5h7M512 647.5h1M513 646.5h2M515 645.5h1M516.5 646v2M517.5 648v2M518.5 650v2M519 652.5h1M520 653.5h2M522 654.5h2M524.5 652v2M525.5 650v2M526.5 648v2M527.5 646v2M528 646.5h1M529 647.5h3M532.5 645v2M533 644.5h1M534.5 642v2M535 641.5h1M536 642.5h2M538 643.5h6M544.5 641v2M545.5 639v2M546.5 637v2M547.5 633v4M548.5 629v4M549.5 625v4M550.5 621v4M551.5 618v3M552 618.5h1M553 617.5h3M555 616.5h1M556.5 614v2M557.5 611v3M558.5 609v2M559.5 607v2M559 608.5h1M560.5 609v3M561.5 612v4M562.5 616v3M563.5 619v2M564 619.5h1M565 618.5h2M567 617.5h1M568.5 618v2M569 620.5h1M570.5 621v2M571 623.5h1M572 622.5h1M573 621.5h2M575 620.5h2M577 621.5h7M583.5 622v2M584.5 624v5M585.5 629v4M586.5 633v5M587.5 638v3M588 639.5h1M589.5 637v2M590 636.5h1M591 635.5h2M593 636.5h8M601 637.5h3M604 636.5h1M605 635.5h2M607 634.5h2M609 633.5h3M612 634.5h2M614 635.5h2M616 634.5h1M617 633.5h1M618 632.5h1M619 631.5h1M620 630.5h1M621.5 628v2M622 627.5h1M623 626.5h2M625 625.5h3M628 624.5h1M629 623.5h2M631 622.5h2M633 623.5h7M640.5 624v2M641 626.5h1M642.5 627v2M643 629.5h1M644 628.5h2M646 627.5h6M652 626.5h1M653 625.5h2M655 624.5h1M656 625.5h1M657 626.5h2M659.5 627v2M660.5 629v2M661.5 631v2M662.5 633v2M663.5 635v2M664 637.5h2M666 638.5h2M668.5 639v2M669 641.5h1M670.5 642v2M671 644.5h1M672 645.5h2M674 646.5h2M676 645.5h1M677 644.5h2M679 643.5h2M681 644.5h7M687 645.5h1M688.5 646v3M689.5 649v2M690.5 651v3M691.5 654v2M692 656.5h1M693.5 657v2M694 659.5h1M695 660.5h1M696 659.5h1M697 658.5h2M699 657.5h1M700 656.5h1M701.5 654v2M702 653.5h1M703 652.5h1M704 651.5h1M705.5 649v2M706 648.5h1M707 647.5h1M708 648.5h2M710 649.5h2M712 648.5h1M713 647.5h1M714 646.5h1M715 645.5h1M716 646.5h2M718 647.5h2M720.5 645v2M721 644.5h1M722.5 642v2M723 641.5h5M728 642.5h2M730 643.5h2M732 642.5h1M733.5 640v2M734 639.5h1M735 638.5h2M737 639.5h4M741 638.5h3M744 637.5h2M746 636.5h2M748 637.5h2M750 638.5h2M752 637.5h2M754 636.5h6M760.5 637v2M761 639.5h1M762.5 640v2M763 642.5h1M764 643.5h1M765.5 644v2M766 646.5h1M767 647.5h2M769 648.5h3M772.5 646v2M773 645.5h1M774.5 643v2M775 642.5h1M776 641.5h1M777.5 639v2M778 638.5h1M779 637.5h1M780 638.5h1M781 639.5h1M782 640.5h1M783.5 641v2M784.5 643v2M785.5 645v2M786.5 647v2M787.5 649v2M788 651.5h1M789.5 652v2M790 654.5h1M791 655.5h2M793 656.5h4M797 657.5h3M800 656.5h1M801 655.5h1M802 654.5h1M803 653.5h1M804 652.5h1M805 651.5h1M806 650.5h1M807 649.5h1M808 650.5h1M809 651.5h1M810 652.5h1M811 653.5h6M817 654.5h4M821 655.5h4M825 654.5h3M828 655.5h2M830 656.5h2M832 655.5h2M834 654.5h2M836 655.5h1M837 656.5h1M838 657.5h1M839 658.5h2M841 659.5h3M844 658.5h1M845 657.5h1M846 656.5h1M847 655.5h2M849 654.5h3M852 655.5h2M854 656.5h2M856 657.5h1M857 658.5h1M858 659.5h1M859 660.5h2M861 661.5h3M864 660.5h2M866 659.5h2M868 660.5h1M869 661.5h1M870 662.5h1M871 663.5h1M872.5 664v2M873 666.5h1M874.5 667v2M875 669.5h5M880 670.5h1M881.5 671v2M882 673.5h1M883.5 673v2M884.5 671v2M885.5 668v3M886.5 666v2M887.5 664v2M888 664.5h1M889 665.5h3M892.5 663v2M893.5 661v2M894.5 659v2M895.5 657v2M896 657.5h4M900.5 655v2M901 654.5h1M902.5 652v2M903 651.5h5M908.5 652v2M909.5 654v2M910.5 656v2M911 658.5h2M913 657.5h3M916.5 655v2M917.5 653v2M918.5 651v2M919.5 649v2M920 648.5h2M922 647.5h2M924 646.5h2M926 645.5h2M928 646.5h2M930 647.5h2M932 646.5h1M933.5 644v2M934 643.5h1M935 642.5h1M936 643.5h2M938 644.5h2M940 645.5h1M941 646.5h1M942 647.5h1M943 648.5h1M944 649.5h1M945 650.5h1M946 651.5h1M947 652.5h5M952 651.5h1M953.5 649v2M954 648.5h1M955 647.5h2M957 648.5h3M960 647.5h2M962 646.5h2M964 645.5h1M965 644.5h1M966 643.5h1M967.5 641v2M968.5 639v2M969.5 637v2M970.5 635v2M971.5 633v2M971 634.5h1M972.5 635v2M973.5 637v3M974.5 640v2M975.5 642v2M976 644.5h2M978 645.5h2M980 646.5h1M981 647.5h1M982 648.5h1M983 649.5h1M984 650.5h2M986 651.5h2M988.5 649v2M989 648.5h1M990.5 646v2M991 645.5h1M992 646.5h1M993 647.5h1M994 648.5h1M995 649.5h1M996 648.5h1M997 647.5h2M999.5 646v2M1000.5 648v4M1001.5 652v4M1002.5 656v4M1003.5 660v2M1003 660.5h1M1004.5 657v3M1005.5 655v2M1006.5 652v3M1007.5 650v2M1008 651.5h1M1009 652.5h2M1011 653.5h1M1012 654.5h2M1014 655.5h6M1020 654.5h2M1022 653.5h3M1025 652.5h4M1029 653.5h3M1032 652.5h2M1034 651.5h2M1036 650.5h2M1038 649.5h3M1041 650.5h4M1045 651.5h3M1048 652.5h1M1049 653.5h1M1050 654.5h1M1051 655.5h1M1052 654.5h2M1054 653.5h3M1057 654.5h3M1060 655.5h1M1061.5 656v2M1062 658.5h1M1063 659.5h1M1064 660.5h1M1065 661.5h2M1067 662.5h1M1068 663.5h2M1070 664.5h6M1076 663.5h1M1077 662.5h2M1079 661.5h2M1081 660.5h3M1084 659.5h1M1085 658.5h1M1086 657.5h1M1087.5 656v2M1088.5 658v2M1089.5 660v2M1090.5 662v2M1091.5 664v2M1092 665.5h1M1093 664.5h3M1096 665.5h1M1097 666.5h1M1098 667.5h1M1099 668.5h1M1100 669.5h1M1101 670.5h2M1103 671.5h2M1105 672.5h3M1108 673.5h1M1109 674.5h1M1110 675.5h1M1111 676.5h2M1113 677.5h3M1116 676.5h1M1117.5 674v2M1118 673.5h1M1119 672.5h1M1120 673.5h1M1121 674.5h2M1123 675.5h1M1124 676.5h2M1126 677.5h3M1129 676.5h3M1132 675.5h1M1133 674.5h2M1135.5 671v3M1136.5 667v4M1137.5 662v5M1138.5 658v4M1139.5 655v3M1140 654.5h2M1142 653.5h2M1143 652.5h1M1144.5 650v2M1145.5 647v3M1146.5 645v2M1147.5 643v2M1148 644.5h1M1149 645.5h2M1151 646.5h2M1153 645.5h3M1155 644.5h1M1156.5 641v3M1157.5 637v4M1158.5 634v3M1159.5 632v2M1160 633.5h1M1161.5 634v2M1162 636.5h1M1163 637.5h1M1164 638.5h2M1166 639.5h2M1168.5 637v2M1169.5 635v2M1170.5 633v2M1171.5 631v2M1172 631.5h4M1176 632.5h2M1178 633.5h2M1180 632.5h1M1181 631.5h1M1182 630.5h1M1183.5 629v2M1184.5 631v2M1185.5 633v2M1186.5 635v2M1187.5 637v2M1188 639.5h1M1189.5 640v2M1190 642.5h1M1191 643.5h2M1193 642.5h3M1196.5 640v2M1197 639.5h1M1198.5 637v2M1199 636.5h2M1201 635.5h3M1204.5 636v2M1205.5 638v2M1206.5 640v2M1207 642.5h1M1208 643.5h1M1209.5 644v2M1210 646.5h1M1211 647.5h1M1212 646.5h2M1214 645.5h2M1216 644.5h2M1218 643.5h2M1220 642.5h1M1221 641.5h2M1223 640.5h5M1228 641.5h1M1229 642.5h1M1230 643.5h1M1231 644.5h1M1232 643.5h1M1233.5 641v2M1234 640.5h1M1235 639.5h1M1236 638.5h2M1238 637.5h2M1240.5 635v2M1241.5 633v2M1242.5 631v2M1243 630.5h1M1244 631.5h2M1246 632.5h6M1252 633.5h1M1253 634.5h2M1255 635.5h1M1256 636.5h1M1257 637.5h2M1259 638.5h1M1260 637.5h1M1261 636.5h2M1263.5 635v2M1264.5 637v2M1265.5 639v2M1266.5 641v2M1267.5 643v2M1268 645.5h1M1269.5 646v2M1270 648.5h1M1271 649.5h1M1272 650.5h2M1274 651.5h2M1276.5 652v2M1277 654.5h1M1278.5 655v2M1279 657.5h1M1280 658.5h1M1281 659.5h1M1282 660.5h1M1283 661.5h1M1284 662.5h1M1285 663.5h1M1286 664.5h1M1287 665.5h1M1288.5 663v2M1289.5 661v2M1290.5 659v2M1291 658.5h2M1293 659.5h7M1300.5 660v2M1301 662.5h1M1302.5 663v2M1303 665.5h1"/>
<g shape-rendering="crispEdges">
<rect x="3" y="764" width="1" height="6" fill="#c0c0c0"/>
<rect x="7" y="764" width="1" height="5" fill="#c0c0c0"/>
<rect x="11" y="764" width="1" height="6" fill="#c0c0c0"/>
<rect x="15" y="764" width="1" height="10" fill="#c0c0c0"/>
<rect x="19" y="764" width="1" height="13" fill="#c0c0c0"/>
<rect x="23" y="764" width="1" height="16" fill="#c0c0c0"/>
<rect x="27" y="764" width="1" height="18" fill="#c0c0c0"/>
<rect x="31" y="764" width="1" height="22" fill="#c0c0c0"/>
<rect x="35" y="764" width="1" height="24" fill="#c0c0c0"/>
<rect x="39" y="764" width="1" height="26" fill="#c0c0c0"/>
<rect x="43" y="764" width="1" height="26" fill="#c0c0c0"/>
<rect x="47" y="764" width="1" height="24" fill="#c0c0c0"/>
<rect x="51" y="764" width="1" height="23" fill="#c0c0c0"/>
<rect x="55" y="764" width="1" height="21" fill="#c0c0c0"/>
<rect x="59" y="764" width="1" height="21" fill="#c0c0c0"/>
<rect x="63" y="764" width="1" height="19" fill="#c0c0c0"/>
<rect x="67" y="764" width="1" height="17" fill="#c0c0c0"/>
<rect x="71" y="764" width="1" height="15" fill="#c0c0c0"/>
<rect x="75" y="764" width="1" height="12" fill="#c0c0c0"/>
<rect x="79" y="764" width="1" height="11" fill="#c0c0c0"/>
<rect x="83" y="764" width="1" height="11" fill="#c0c0c0"/>
<rect x="87" y="764" width="1" height="11" fill="#c0c0c0"/>
<rect x="91" y="764" width="1" height="10" fill="#c0c0c0"/>
<rect x="95" y="764" width="1" height="10" fill="#c0c0c0"/>
<rect x="99" y="764" width="1" height="10" fill="#c0c0c0"/>
<rect x="103" y="764" width="1" height="9" fill="#c0c0c0"/>
<rect x="107" y="764" width="1" height="9" fill="#c0c0c0"/>
<rect x="111" y="764" width="1" height="9" fill="#c0c0c0"/>
<rect x="115" y="764" width="1" height="9" fill="#c0c0c0"/>
<rect x="119" y="764" width="1" height="8" fill="#c0c0c0"/>
<rect x="123" y="764" width="1" height="6" fill="#c0c0c0"/>
<rect x="127" y="764" width="1" height="6" fill="#c0c0c0"/>
<rect x="131" y="764" width="1" height="5" fill="#c0c0c0"/>
<rect x="135" y="764" width="1" height="3" fill="#c0c0c0"/>
<rect x="139" y="764" width="1" height="1" fill="#c0c0c0"/>
<rect x="143" y="764" width="1" height="2" fill="#c0c0c0"/>
<rect x="147" y="764" width="1" height="2" fill="#c0c0c0"/>
<rect x="151" y="764" width="1" height="2" fill="#c0c0c0"/>
<rect x="155" y="764" width="1" height="1" fill="#c0c0c0"/>
<rect x="159" y="764" width="1" height="2" fill="#c0c0c0"/>
<rect x="163" y="764" width="1" height="2" fill="#c0c0c0"/>
<rect x="167" y="764" width="1" height="3" fill="#c0c0c0"/>
<rect x="171" y="764" width="1" height="4" fill="#c0c0c0"/>
<rect x="175" y="764" width="1" height="3" fill="#c0c0c0"/>
<rect x="179" y="764" width="1" height="4" fill="#c0c0c0"/>
<rect x="183" y="764" width="1" height="3" fill="#c0c0c0"/>
<rect x="187" y="764" width="1" height="2" fill="#c0c0c0"/>
<rect x="191" y="764" width="1" height="3" fill="#c0c0c0"/>
<rect x="195" y="764" width="1" height="4" fill="#c0c0c0"/>
<rect x="199" y="764" width="1" height="5" fill="#c0c0c0"/>
<rect x="203" y="764" width="1" height="4" fill="#c0c0c0"/>
<rect x="207" y="764" width="1" height="6" fill="#c0c0c0"/>
<rect x="211" y="764" width="1" height="6" fill="#c0c0c0"/>
<rect x="215" y="764" width="1" height="6" fill="#c0c0c0"/>
<rect x="219" y="764" width="1" height="5" fill="#c0c0c0"/>
<rect x="223" y="764" width="1" height="4" fill="#c0c0c0"/>
<rect x="227" y="764" width="1" height="2" fill="#c0c0c0"/>
<rect x="231" y="762" width="1" height="2" fill="#c0c0c0"/>
<rect x="235" y="761" width="1" height="3" fill="#c0c0c0"/>
<rect x="239" y="760" width="1" height="4" fill="#c0c0c0"/>
<rect x="243" y="759" width="1" height="5" fill="#c0c0c0"/>
<rect x="247" y="758" width="1" height="6" fill="#c0c0c0"/>
<rect x="251" y="759" width="1" height="5" fill="#c0c0c0"/>
<rect x="255" y="758" width="1" height="6" fill="#c0c0c0"/>
<rect x="259" y="758" width="1" height="6" fill="#c0c0c0"/>
<rect x="263" y="758" width="1" height="6" fill="#c0c0c0"/>
<rect x="267" y="758" width="1" height="6" fill="#c0c0c0"/>
<rect x="271" y="745" width="1" height="19" fill="#c0c0c0"/>
<rect x="275" y="735" width="1" height="29" fill="#c0c0c0"/>
<rect x="279" y="727" width="1" height="37" fill="#c0c0c0"/>
<rect x="283" y="721" width="1" height="43" fill="#c0c0c0"/>
<rect x="287" y="715" width="1" height="49" fill="#c0c0c0"/>
<rect x="291" y="710" width="1" height="54" fill="#c0c0c0"/>
<rect x="295" y="707" width="1" height="57" fill="#c0c0c0"/>
<rect x="299" y="706" width="1" height="58" fill="#c0c0c0"/>
<rect x="303" y="706" width="1" height="58" fill="#c0c0c0"/>
<rect x="307" y="707" width="1" height="57" fill="#c0c0c0"/>
<rect x="311" y="710" width="1" height="54" fill="#c0c0c0"/>
<rect x="315" y="712" width="1" height="52" fill="#c0c0c0"/>
<rect x="319" y="715" width="1" height="49" fill="#c0c0c0"/>
<rect x="323" y="718" width="1" height="46" fill="#c0c0c0"/>
<rect x="327" y="718" width="1" height="46" fill="#c0c0c0"/>
<rect x="331" y="720" width="1" height="44" fill="#c0c0c0"/>
<rect x="335" y="722" width="1" height="42" fill="#c0c0c0"/>
<rect x="339" y="724" width="1" height="40" fill="#c0c0c0"/>
<rect x="343" y="726" width="1" height="38" fill="#c0c0c0"/>
<rect x="347" y="728" width="1" height="36" fill="#c0c0c0"/>
<rect x="351" y="730" width="1" height="34" fill="#c0c0c0"/>
<rect x="355" y="732" width="1" height="32" fill="#c0c0c0"/>
<rect x="359" y="733" width="1" height="31" fill="#c0c0c0"/>
<rect x="363" y="734" width="1" height="30" fill="#c0c0c0"/>
<rect x="367" y="735" width="1" height="29" fill="#c0c0c0"/>
<rect x="371" y="738" width="1" height="26" fill="#c0c0c0"/>
<rect x="375" y="739" width="1" height="25" fill="#c0c0c0"/>
<rect x="379" y="741" width="1" height="23" fill="#c0c0c0"/>
<rect x="383" y="742" width="1" height="22" fill="#c0c0c0"/>
<rect x="387" y="744" width="1" height="20" fill="#c0c0c0"/>
<rect x="391" y="745" width="1" height="19" fill="#c0c0c0"/>
<rect x="395" y="748" width="1" height="16" fill="#c0c0c0"/>
<rect x="399" y="751" width="1" height="13" fill="#c0c0c0"/>
<rect x="403" y="758" width="1" height="6" fill="#c0c0c0"/>
<rect x="407" y="761" width="1" height="3" fill="#c0c0c0"/>
<rect x="411" y="764" width="1" height="2" fill="#c0c0c0"/>
<rect x="415" y="764" width="1" height="4" fill="#c0c0c0"/>
<rect x="419" y="764" width="1" height="5" fill="#c0c0c0"/>
<rect x="423" y="764" width="1" height="6" fill="#c0c0c0"/>
<rect x="427" y="764" width="1" height="7" fill="#c0c0c0"/>
<rect x="431" y="764" width="1" height="8" fill="#c0c0c0"/>
<rect x="435" y="764" width="1" height="8" fill="#c0c0c0"/>
<rect x="439" y="764" width="1" height="9" fill="#c0c0c0"/>
<rect x="443" y="764" width="1" height="9" fill="#c0c0c0"/>
<rect x="447" y="764" width="1" height="8" fill="#c0c0c0"/>
<rect x="451" y="764" width="1" height="8" fill="#c0c0c0"/>
<rect x="455" y="764" width="1" height="6" fill="#c0c0c0"/>
<rect x="459" y="764" width="1" height="5" fill="#c0c0c0"/>
<rect x="463" y="764" width="1" height="4" fill="#c0c0c0"/>
<rect x="467" y="764" width="1" height="3" fill="#c0c0c0"/>
<rect x="471" y="764" width="1" height="4" fill="#c0c0c0"/>
<rect x="475" y="764" width="1" height="5" fill="#c0c0c0"/>
<rect x="479" y="764" width="1" height="5" fill="#c0c0c0"/>
<rect x="483" y="764" width="1" height="5" fill="#c0c0c0"/>
<rect x="487" y="764" width="1" height="5" fill="#c0c0c0"/>
<rect x="491" y="764" width="1" height="5" fill="#c0c0c0"/>
<rect x="495" y="764" width="1" height="5" fill="#c0c0c0"/>
<rect x="499" y="764" width="1" height="5" fill="#c0c0c0"/>
<rect x="503" y="764" width="1" height="4" fill="#c0c0c0"/>
<rect x="507" y="764" width="1" height="4" fill="#c0c0c0"/>
<rect x="511" y="764" width="1" height="3" fill="#c0c0c0"/>
<rect x="515" y="764" width="1" height="3" fill="#c0c0c0"/>
<rect x="519" y="764" width="1" height="3" fill="#c0c0c0"/>
<rect x="523" y="764" width="1" height="4" fill="#c0c0c0"/>
<rect x="527" y="764" width="1" height="4" fill="#c0c0c0"/>
<rect x="531" y="764" width="1" height="3" fill="#c0c0c0"/>
<rect x="535" y="764" width="1" height="2" fill="#c0c0c0"/>
<rect x="539" y="764" width="1" height="1" fill="#c0c0c0"/>
<rect x="543" y="764" width="1" height="1" fill="#c0c0c0"/>
<rect x="547" y="762" width="1" height="2" fill="#c0c0c0"/>
<rect x="551" y="756" width="1" height="8" fill="#c0c0c0"/>
<rect x="555" y="750" width="1" height="14" fill="#c0c0c0"/>
<rect x="559" y="737" width="1" height="27" fill="#c0c0c0"/>
<rect x="563" y="730" width="1" height="34" fill="#c0c0c0"/>
<rect x="567" y="722" width="1" height="42" fill="#c0c0c0"/>
<rect x="571" y="718" width="1" height="46" fill="#c0c0c0"/>
<rect x="575" y="713" width="1" height="51" fill="#c0c0c0"/>
<rect x="579" y="710" width="1" height="54" fill="#c0c0c0"/>
<rect x="583" y="708" width="1" height="56" fill="#c0c0c0"/>
<rect x="587" y="714" width="1" height="50" fill="#c0c0c0"/>
<rect x="591" y="716" width="1" height="48" fill="#c0c0c0"/>
<rect x="595" y="718" width="1" height="46" fill="#c0c0c0"/>
<rect x="599" y="721" width="1" height="43" fill="#c0c0c0"/>
<rect x="603" y="723" width="1" height="41" fill="#c0c0c0"/>
<rect x="607" y="724" width="1" height="40" fill="#c0c0c0"/>
<rect x="611" y="725" width="1" height="39" fill="#c0c0c0"/>
<rect x="615" y="726" width="1" height="38" fill="#c0c0c0"/>
<rect x="619" y="726" width="1" height="38" fill="#c0c0c0"/>
<rect x="623" y="723" width="1" height="41" fill="#c0c0c0"/>
<rect x="627" y="721" width="1" height="43" fill="#c0c0c0"/>
<rect x="631" y="716" width="1" height="48" fill="#c0c0c0"/>
<rect x="635" y="714" width="1" height="50" fill="#c0c0c0"/>
<rect x="639" y="713" width="1" height="51" fill="#c0c0c0"/>
<rect x="643" y="714" width="1" height="50" fill="#c0c0c0"/>
<rect x="647" y="714" width="1" height="50" fill="#c0c0c0"/>
<rect x="651" y="715" width="1" height="49" fill="#c0c0c0"/>
<rect x="655" y="714" width="1" height="50" fill="#c0c0c0"/>
<rect x="659" y="715" width="1" height="49" fill="#c0c0c0"/>
<rect x="663" y="718" width="1" height="46" fill="#c0c0c0"/>
<rect x="667" y="722" width="1" height="42" fill="#c0c0c0"/>
<rect x="671" y="728" width="1" height="36" fill="#c0c0c0"/>
<rect x="675" y="733" width="1" height="31" fill="#c0c0c0"/>
<rect x="679" y="737" width="1" height="27" fill="#c0c0c0"/>
<rect x="683" y="740" width="1" height="24" fill="#c0c0c0"/>
<rect x="687" y="743" width="1" height="21" fill="#c0c0c0"/>
<rect x="691" y="750" width="1" height="14" fill="#c0c0c0"/>
<rect x="695" y="758" width="1" height="6" fill="#c0c0c0"/>
<rect x="699" y="763" width="1" height="1" fill="#c0c0c0"/>
<rect x="703" y="764" width="1" height="2" fill="#c0c0c0"/>
<rect x="707" y="764" width="1" height="2" fill="#c0c0c0"/>
<rect x="711" y="764" width="1" height="3" fill="#c0c0c0"/>
<rect x="715" y="764" width="1" height="2" fill="#c0c0c0"/>
<rect x="719" y="764" width="1" height="2" fill="#c0c0c0"/>
<rect x="723" y="763" width="1" height="1" fill="#c0c0c0"/>
<rect x="727" y="761" width="1" height="3" fill="#c0c0c0"/>
<rect x="731" y="761" width="1" height="3" fill="#c0c0c0"/>
<rect x="735" y="758" width="1" height="6" fill="#c0c0c0"/>
<rect x="739" y="757" width="1" height="7" fill="#c0c0c0"/>
<rect x="743" y="755" width="1" height="9" fill="#c0c0c0"/>
<rect x="747" y="753" width="1" height="11" fill="#c0c0c0"/>
<rect x="751" y="752" width="1" height="12" fill="#c0c0c0"/>
<rect x="755" y="751" width="1" height="13" fill="#c0c0c0"/>
<rect x="759" y="750" width="1" height="14" fill="#c0c0c0"/>
<rect x="763" y="751" width="1" height="13" fill="#c0c0c0"/>
<rect x="767" y="753" width="1" height="11" fill="#c0c0c0"/>
<rect x="771" y="755" width="1" height="9" fill="#c0c0c0"/>
<rect x="775" y="755" width="1" height="9" fill="#c0c0c0"/>
<rect x="779" y="754" width="1" height="10" fill="#c0c0c0"/>
<rect x="783" y="754" width="1" height="10" fill="#c0c0c0"/>
<rect x="787" y="757" width="1" height="7" fill="#c0c0c0"/>
<rect x="791" y="761" width="1" height="3" fill="#c0c0c0"/>
<rect x="795" y="764" width="1" height="1" fill="#c0c0c0"/>
<rect x="799" y="764" width="1" height="5" fill="#c0c0c0"/>
<rect x="803" y="764" width="1" height="6" fill="#c0c0c0"/>
<rect x="807" y="764" width="1" height="6" fill="#c0c0c0"/>
<rect x="811" y="764" width="1" height="8" fill="#c0c0c0"/>
<rect x="815" y="764" width="1" height="9" fill="#c0c0c0"/>
<rect x="819" y="764" width="1" height="10" fill="#c0c0c0"/>
<rect x="823" y="764" width="1" height="11" fill="#c0c0c0"/>
<rect x="827" y="764" width="1" height="11" fill="#c0c0c0"/>
<rect x="831" y="764" width="1" height="12" fill="#c0c0c0"/>
<rect x="835" y="764" width="1" height="13" fill="#c0c0c0"/>
<rect x="839" y="764" width="1" height="14" fill="#c0c0c0"/>
<rect x="843" y="764" width="1" height="15" fill="#c0c0c0"/>
<rect x="847" y="764" width="1" height="15" fill="#c0c0c0"/>
<rect x="851" y="764" width="1" height="14" fill="#c0c0c0"/>
<rect x="855" y="764" width="1" height="14" fill="#c0c0c0"/>
<rect x="859" y="764" width="1" height="15" fill="#c0c0c0"/>
<rect x="863" y="764" width="1" height="16" fill="#c0c0c0"/>
<rect x="867" y="764" width="1" height="17" fill="#c0c0c0"/>
<rect x="871" y="764" width="1" height="18" fill="#c0c0c0"/>
<rect x="875" y="764" width="1" height="21" fill="#c0c0c0"/>
<rect x="879" y="764" width="1" height="23" fill="#c0c0c0"/>
<rect x="883" y="764" width="1" height="26" fill="#c0c0c0"/>
<rect x="887" y="764" width="1" height="27" fill="#c0c0c0"/>
<rect x="891" y="764" width="1" height="28" fill="#c0c0c0"/>
<rect x="895" y="764" width="1" height="26" fill="#c0c0c0"/>
<rect x="899" y="764" width="1" height="25" fill="#c0c0c0"/>
<rect x="903" y="764" width="1" height="22" fill="#c0c0c0"/>
<rect x="907" y="764" width="1" height="20" fill="#c0c0c0"/>
<rect x="911" y="764" width="1" height="20" fill="#c0c0c0"/>
<rect x="915" y="764" width="1" height="19" fill="#c0c0c0"/>
<rect x="919" y="764" width="1" height="17" fill="#c0c0c0"/>
<rect x="923" y="764" width="1" height="15" fill="#c0c0c0"/>
<rect x="927" y="764" width="1" height="12" fill="#c0c0c0"/>
<rect x="931" y="764" width="1" height="11" fill="#c0c0c0"/>
<rect x="935" y="764" width="1" height="8" fill="#c0c0c0"/>
<rect x="939" y="764" width="1" height="6" fill="#c0c0c0"/>
<rect x="943" y="764" width="1" height="6" fill="#c0c0c0"/>
<rect x="947" y="764" width="1" height="6" fill="#c0c0c0"/>
<rect x="951" y="764" width="1" height="7" fill="#c0c0c0"/>
<rect x="955" y="764" width="1" height="6" fill="#c0c0c0"/>
<rect x="959" y="764" width="1" height="5" fill="#c0c0c0"/>
<rect x="963" y="764" width="1" height="5" fill="#c0c0c0"/>
<rect x="967" y="764" width="1" height="3" fill="#c0c0c0"/>
<rect x="971" y="762" width="1" height="2" fill="#c0c0c0"/>
<rect x="975" y="762" width="1" height="2" fill="#c0c0c0"/>
<rect x="979" y="762" width="1" height="2" fill="#c0c0c0"/>
<rect x="983" y="763" width="1" height="1" fill="#c0c0c0"/>
<rect x="987" y="764" width="1" height="1" fill="#c0c0c0"/>
<rect x="991" y="763" width="1" height="1" fill="#c0c0c0"/>
<rect x="995" y="764" width="1" height="1" fill="#c0c0c0"/>
<rect x="999" y="764" width="1" height="1" fill="#c0c0c0"/>
<rect x="1003" y="764" width="1" height="6" fill="#c0c0c0"/>
<rect x="1007" y="764" width="1" height="6" fill="#c0c0c0"/>
<rect x="1011" y="764" width="1" height="8" fill="#c0c0c0"/>
<rect x="1015" y="764" width="1" height="10" fill="#c0c0c0"/>
<rect x="1019" y="764" width="1" height="11" fill="#c0c0c0"/>
<rect x="1023" y="764" width="1" height="11" fill="#c0c0c0"/>
<rect x="1027" y="764" width="1" height="11" fill="#c0c0c0"/>
<rect x="1031" y="764" width="1" height="11" fill="#c0c0c0"/>
<rect x="1035" y="764" width="1" height="11" fill="#c0c0c0"/>
<rect x="1039" y="764" width="1" height="10" fill="#c0c0c0"/>
<rect x="1043" y="764" width="1" height="10" fill="#c0c0c0"/>
<rect x="1047" y="764" width="1" height="9" fill="#c0c0c0"/>
<rect x="1051" y="764" width="1" height="10" fill="#c0c0c0"/>
<rect x="1055" y="764" width="1" height="10" fill="#c0c0c0"/>
<rect x="1059" y="764" width="1" height="10" fill="#c0c0c0"/>
<rect x="1063" y="764" width="1" height="11" fill="#c0c0c0"/>
<rect x="1067" y="764" width="1" height="13" fill="#c0c0c0"/>
<rect x="1071" y="764" width="1" height="15" fill="#c0c0c0"/>
<rect x="1075" y="764" width="1" height="16" fill="#c0c0c0"/>
<rect x="1079" y="764" width="1" height="17" fill="#c0c0c0"/>
<rect x="1083" y="764" width="1" height="17" fill="#c0c0c0"/>
<rect x="1087" y="764" width="1" height="16" fill="#c0c0c0"/>
<rect x="1091" y="764" width="1" height="17" fill="#c0c0c0"/>
<rect x="1095" y="764" width="1" height="18" fill="#c0c0c0"/>
<rect x="1099" y="764" width="1" height="20" fill="#c0c0c0"/>
<rect x="1103" y="764" width="1" height="22" fill="#c0c0c0"/>
<rect x="1107" y="764" width="1" height="24" fill="#c0c0c0"/>
<rect x="1111" y="764" width="1" height="27" fill="#c0c0c0"/>
<rect x="1115" y="764" width="1" height="30" fill="#c0c0c0"/>
<rect x="1119" y="764" width="1" height="30" fill="#c0c0c0"/>
<rect x="1123" y="764" width="1" height="32" fill="#c0c0c0"/>
<rect x="1127" y="764" width="1" height="34" fill="#c0c0c0"/>
<rect x="1131" y="764" width="1" height="35" fill="#c0c0c0"/>
<rect x="1135" y="764" width="1" height="35" fill="#c0c0c0"/>
<rect x="1139" y="764" width="1" height="31" fill="#c0c0c0"/>
<rect x="1143" y="764" width="1" height="28" fill="#c0c0c0"/>
<rect x="1147" y="764" width="1" height="23" fill="#c0c0c0"/>
<rect x="1151" y="764" width="1" height="19" fill="#c0c0c0"/>
<rect x="1155" y="764" width="1" height="16" fill="#c0c0c0"/>
<rect x="1159" y="764" width="1" height="9" fill="#c0c0c0"/>
<rect x="1163" y="764" width="1" height="5" fill="#c0c0c0"/>
<rect x="1167" y="764" width="1" height="2" fill="#c0c0c0"/>
<rect x="1171" y="760" width="1" height="4" fill="#c0c0c0"/>
<rect x="1175" y="756" width="1" height="8" fill="#c0c0c0"/>
<rect x="1179" y="753" width="1" height="11" fill="#c0c0c0"/>
<rect x="1183" y="750" width="1" height="14" fill="#c0c0c0"/>
<rect x="1187" y="749" width="1" height="15" fill="#c0c0c0"/>
<rect x="1191" y="750" width="1" height="14" fill="#c0c0c0"/>
<rect x="1195" y="751" width="1" height="13" fill="#c0c0c0"/>
<rect x="1199" y="750" width="1" height="14" fill="#c0c0c0"/>
<rect x="1203" y="748" width="1" height="16" fill="#c0c0c0"/>
<rect x="1207" y="749" width="1" height="15" fill="#c0c0c0"/>
<rect x="1211" y="752" width="1" height="12" fill="#c0c0c0"/>
<rect x="1215" y="753" width="1" height="11" fill="#c0c0c0"/>
<rect x="1219" y="754" width="1" height="10" fill="#c0c0c0"/>
<rect x="1223" y="753" width="1" height="11" fill="#c0c0c0"/>
<rect x="1227" y="753" width="1" height="11" fill="#c0c0c0"/>
<rect x="1231" y="754" width="1" height="10" fill="#c0c0c0"/>
<rect x="1235" y="754" width="1" height="10" fill="#c0c0c0"/>
<rect x="1239" y="753" width="1" height="11" fill="#c0c0c0"/>
<rect x="1243" y="749" width="1" height="15" fill="#c0c0c0"/>
<rect x="1247" y="747" width="1" height="17" fill="#c0c0c0"/>
<rect x="1251" y="746" width="1" height="18" fill="#c0c0c0"/>
<rect x="1255" y="746" width="1" height="18" fill="#c0c0c0"/>
<rect x="1259" y="746" width="1" height="18" fill="#c0c0c0"/>
<rect x="1263" y="746" width="1" height="18" fill="#c0c0c0"/>
<rect x="1267" y="748" width="1" height="16" fill="#c0c0c0"/>
<rect x="1271" y="752" width="1" height="12" fill="#c0c0c0"/>
<rect x="1275" y="755" width="1" height="9" fill="#c0c0c0"/>
<rect x="1279" y="759" width="1" height="5" fill="#c0c0c0"/>
<rect x="1283" y="764" width="1" height="1" fill="#c0c0c0"/>
<rect x="1287" y="764" width="1" height="7" fill="#c0c0c0"/>
<rect x="1291" y="764" width="1" height="10" fill="#c0c0c0"/>
<rect x="1295" y="764" width="1" height="12" fill="#c0c0c0"/>
<rect x="1299" y="764" width="1" height="14" fill="#c0c0c0"/>
<rect x="1303" y="764" width="1" height="17" fill="#c0c0c0"/>
</g>
<path fill="none" stroke="#ff0000" stroke-width="1" shape-rendering="crispEdges" d="M3 771.5h2M5 770.5h1M9 769.5h3M15 769.5h2M17 770.5h1M21 771.5h3M27 772.5h1M28 773.5h2M33 775.5h1M34 776.5h2M39 779.5h1M40 780.5h2M45 782.5h1M46 783.5h2M51 784.5h2M53 785.5h1M57 786.5h3M63 786.5h2M65 785.5h1M69 784.5h3M75 783.5h1M76 782.5h2M81 780.5h3M87 778.5h2M89 777.5h1M93 776.5h3M99 775.5h2M101 774.5h1M105 773.5h3M111 773.5h3M117 772.5h3M123 772.5h2M125 771.5h1M129 771.5h3M135 770.5h2M137 769.5h1M141 769.5h3M147 768.5h2M149 767.5h1M153 766.5h3M159 766.5h2M161 765.5h1M165 765.5h3M171 765.5h3M177 765.5h3M183 766.5h3M189 766.5h3M195 766.5h3M201 767.5h3M207 767.5h3M213 767.5h3M219 768.5h3M225 768.5h3M231 767.5h2M233 766.5h1M237 766.5h3M243 765.5h1M244 764.5h2M249 762.5h3M255 761.5h2M257 760.5h1M261 759.5h3M267 759.5h1M268 758.5h2M273 755.5h2M275 754.5h1M279 751.5h1M280 750.5h1M281 749.5h1M285.5 744v2M286 743.5h1M289 739.5h1M290.5 737v2M293 733.5h1M294 732.5h1M295 731.5h1M298.5 726v2M299 725.5h1M302.5 720v2M303 719.5h1M307 715.5h1M308 714.5h1M309 713.5h1M313 711.5h3M319 710.5h3M325 711.5h3M331 713.5h2M333 714.5h1M337 715.5h1M338 716.5h2M343 718.5h1M344 719.5h2M349 721.5h1M350 722.5h2M355 724.5h1M356 725.5h2M361 727.5h1M362 728.5h2M367 729.5h1M368 730.5h2M373 732.5h1M374 733.5h2M379 735.5h2M381 736.5h1M385 737.5h1M386 738.5h2M391 739.5h1M392 740.5h2M397 742.5h1M398 743.5h2M403 745.5h1M404 746.5h1M405 747.5h1M409 750.5h2M411 751.5h1M415 754.5h1M416 755.5h2M421 758.5h2M423 759.5h1M427 762.5h1M428 763.5h2M433 766.5h2M435 767.5h1M439 768.5h2M441 769.5h1M445 770.5h3M451 770.5h2M453 771.5h1M457 770.5h3M463 770.5h3M469 769.5h3M475 769.5h2M477 768.5h1M481 768.5h3M487 768.5h3M493 768.5h3M499 768.5h3M505 768.5h3M511 768.5h2M513 767.5h1M517 767.5h3M523 767.5h3M529 767.5h3M535 766.5h3M541 766.5h3M547 765.5h2M549 764.5h1M553 763.5h1M554 762.5h2M559 759.5h1M560 758.5h1M561 757.5h1M565.5 752v2M566 751.5h1M569 747.5h1M570 746.5h1M571 745.5h1M574.5 740v2M575 739.5h1M578.5 734v2M579 733.5h1M582.5 728v2M583 727.5h1M587 723.5h1M588 722.5h1M589 721.5h1M593 718.5h1M594 717.5h2M599 716.5h3M605 716.5h3M611 718.5h2M613 719.5h1M617 720.5h1M618 721.5h2M623 723.5h3M629 723.5h3M635 722.5h2M637 721.5h1M641 720.5h3M647 719.5h1M648 718.5h2M653 716.5h3M659 715.5h3M665 715.5h3M671 717.5h1M672 718.5h2M677 721.5h2M679 722.5h1M683 725.5h1M684 726.5h1M685 727.5h1M689 730.5h1M690 731.5h1M691 732.5h1M694 736.5h1M695 737.5h1M696 738.5h1M699 742.5h1M700 743.5h1M701 744.5h1M705.5 748v2M706 750.5h1M710 753.5h1M711 754.5h1M712 755.5h1M716 758.5h1M717 759.5h2M722 762.5h2M724 763.5h1M728 764.5h3M734 763.5h3M740 762.5h1M741 761.5h2M746 760.5h2M748 759.5h1M752 758.5h1M753 757.5h2M758 755.5h3M764 754.5h1M765 753.5h2M770 753.5h3M776 753.5h3M782 753.5h3M788 753.5h1M789 754.5h2M794 756.5h2M796 757.5h1M800 759.5h2M802 760.5h1M806 761.5h2M808 762.5h1M812 764.5h2M814 765.5h1M818 767.5h2M820 768.5h1M824 769.5h1M825 770.5h2M830 772.5h3M836 773.5h3M842 774.5h3M848 775.5h1M849 776.5h2M854 776.5h3M860 777.5h3M866 778.5h3M872 778.5h1M873 779.5h2M878 780.5h3M884 782.5h2M886 783.5h1M890 784.5h3M896 785.5h1M897 786.5h2M902 787.5h3M908 787.5h3M914 787.5h3M920 785.5h2M922 784.5h1M926 783.5h2M928 782.5h1M932 780.5h2M934 779.5h1M938 777.5h3M944 775.5h2M946 774.5h1M950 773.5h2M952 772.5h1M956 771.5h1M957 770.5h2M962 770.5h3M968 769.5h1M969 768.5h2M974 767.5h3M980 766.5h1M981 765.5h2M986 765.5h3M992 764.5h3M998 763.5h3M1004 764.5h3M1010 765.5h2M1012 766.5h1M1016 767.5h1M1017 768.5h2M1022 769.5h3M1028 770.5h1M1029 771.5h2M1034 772.5h3M1040 773.5h3M1046 773.5h3M1052 774.5h1M1053 773.5h2M1058 773.5h3M1064 773.5h1M1065 774.5h2M1070 774.5h3M1076 775.5h3M1082 776.5h3M1088 777.5h1M1089 778.5h2M1094 779.5h3M1100 780.5h1M1101 781.5h2M1106 782.5h3M1112 783.5h1M1113 784.5h2M1118 786.5h2M1120 787.5h1M1124 789.5h2M1126 790.5h1M1130 791.5h2M1132 792.5h1M1136 793.5h1M1137 794.5h2M1142 794.5h3M1148 794.5h1M1149 793.5h2M1154 791.5h2M1156 790.5h1M1160 788.5h1M1161 787.5h1M1162 786.5h1M1166 783.5h1M1167 782.5h1M1168 781.5h1M1172 777.5h1M1173.5 775v2M1177 771.5h1M1178 770.5h1M1179 769.5h1M1183 765.5h1M1184 764.5h1M1185 763.5h1M1189 759.5h2M1191 758.5h1M1195 756.5h1M1196 755.5h2M1201 753.5h1M1202 752.5h2M1207 751.5h2M1209 750.5h1M1213 750.5h3M1219 751.5h3M1225 752.5h3M1231 752.5h3M1237 753.5h3M1243 753.5h2M1245 752.5h1M1249 752.5h3M1255 751.5h2M1257 750.5h1M1261 749.5h3M1267 748.5h3M1273 748.5h3M1279 750.5h2M1281 751.5h1M1285 753.5h2M1287 754.5h1M1291 757.5h1M1292 758.5h1M1293 759.5h1M1297 762.5h1M1298 763.5h1M1299 764.5h1M1303 767.5h1"/>
<polygon points="1305,26 1316,26 1310.5,31.5" fill="#c0c0c0"/>
<polygon points="5.5,31.5 13.5,31.5 9.5,36" fill="#000"/>
<text x="18.3" y="37" font-size="9.9" fill="#000" font-family="Liberation Sans, sans-serif" textLength="64.9" lengthAdjust="spacingAndGlyphs" text-rendering="geometricPrecision" stroke="#000" stroke-width="0.2">USDCNH,Daily</text>
<text x="90.3" y="37" font-size="10.2" fill="#000" font-family="Liberation Sans, sans-serif" textLength="140.3" lengthAdjust="spacingAndGlyphs" text-rendering="geometricPrecision" stroke="#000" stroke-width="0.2">6.92661 6.92896 6.90387 6.90391</text>
<text x="7.2" y="607" font-size="10.1" fill="#000" font-family="Liberation Sans, sans-serif" textLength="68" lengthAdjust="spacingAndGlyphs" text-rendering="geometricPrecision" stroke="#000" stroke-width="0.2">RSI(14) 31.8468</text>
<text x="7.3" y="713" font-size="10.1" fill="#000" font-family="Liberation Sans, sans-serif" textLength="153.7" lengthAdjust="spacingAndGlyphs" text-rendering="geometricPrecision" stroke="#000" stroke-width="0.2">MACD(12,26,9) -0.016568 -0.003154</text>
<text x="1645.3" y="32" font-size="10.2" fill="#000" font-family="Liberation Sans, sans-serif" textLength="33" lengthAdjust="spacingAndGlyphs" text-rendering="geometricPrecision" stroke="#000" stroke-width="0.2">7.21925</text>
<text x="1645.3" y="65" font-size="10.2" fill="#000" font-family="Liberation Sans, sans-serif" textLength="33" lengthAdjust="spacingAndGlyphs" text-rendering="geometricPrecision" stroke="#000" stroke-width="0.2">7.18600</text>
<text x="1645.3" y="98" font-size="10.2" fill="#000" font-family="Liberation Sans, sans-serif" textLength="33" lengthAdjust="spacingAndGlyphs" text-rendering="geometricPrecision" stroke="#000" stroke-width="0.2">7.15370</text>
<text x="1645.3" y="131" font-size="10.2" fill="#000" font-family="Liberation Sans, sans-serif" textLength="33" lengthAdjust="spacingAndGlyphs" text-rendering="geometricPrecision" stroke="#000" stroke-width="0.2">7.12045</text>
<text x="1645.3" y="164" font-size="10.2" fill="#000" font-family="Liberation Sans, sans-serif" textLength="33" lengthAdjust="spacingAndGlyphs" text-rendering="geometricPrecision" stroke="#000" stroke-width="0.2">7.08720</text>
<text x="1645.3" y="197" font-size="10.2" fill="#000" font-family="Liberation Sans, sans-serif" textLength="33" lengthAdjust="spacingAndGlyphs" text-rendering="geometricPrecision" stroke="#000" stroke-width="0.2">7.05395</text>
<text x="1645.3" y="230" font-size="10.2" fill="#000" font-family="Liberation Sans, sans-serif" textLength="33" lengthAdjust="spacingAndGlyphs" text-rendering="geometricPrecision" stroke="#000" stroke-width="0.2">7.02165</text>
<text x="1645.3" y="263" font-size="10.2" fill="#000" font-family="Liberation Sans, sans-serif" textLength="33" lengthAdjust="spacingAndGlyphs" text-rendering="geometricPrecision" stroke="#000" stroke-width="0.2">6.98840</text>
<text x="1645.3" y="296" font-size="10.2" fill="#000" font-family="Liberation Sans, sans-serif" textLength="33" lengthAdjust="spacingAndGlyphs" text-rendering="geometricPrecision" stroke="#000" stroke-width="0.2">6.95515</text>
<text x="1645.3" y="329" font-size="10.2" fill="#000" font-family="Liberation Sans, sans-serif" textLength="33" lengthAdjust="spacingAndGlyphs" text-rendering="geometricPrecision" stroke="#000" stroke-width="0.2">6.92285</text>
<text x="1645.3" y="362" font-size="10.2" fill="#000" font-family="Liberation Sans, sans-serif" textLength="33" lengthAdjust="spacingAndGlyphs" text-rendering="geometricPrecision" stroke="#000" stroke-width="0.2">6.88960</text>
<text x="1645.3" y="395" font-size="10.2" fill="#000" font-family="Liberation Sans, sans-serif" textLength="33" lengthAdjust="spacingAndGlyphs" text-rendering="geometricPrecision" stroke="#000" stroke-width="0.2">6.85635</text>
<text x="1645.3" y="428" font-size="10.2" fill="#000" font-family="Liberation Sans, sans-serif" textLength="33" lengthAdjust="spacingAndGlyphs" text-rendering="geometricPrecision" stroke="#000" stroke-width="0.2">6.82310</text>
<text x="1645.3" y="461" font-size="10.2" fill="#000" font-family="Liberation Sans, sans-serif" textLength="33" lengthAdjust="spacingAndGlyphs" text-rendering="geometricPrecision" stroke="#000" stroke-width="0.2">6.79080</text>
<text x="1645.3" y="494" font-size="10.2" fill="#000" font-family="Liberation Sans, sans-serif" textLength="33" lengthAdjust="spacingAndGlyphs" text-rendering="geometricPrecision" stroke="#000" stroke-width="0.2">6.75755</text>
<text x="1645.3" y="527" font-size="10.2" fill="#000" font-family="Liberation Sans, sans-serif" textLength="33" lengthAdjust="spacingAndGlyphs" text-rendering="geometricPrecision" stroke="#000" stroke-width="0.2">6.72430</text>
<text x="1645.3" y="560" font-size="10.2" fill="#000" font-family="Liberation Sans, sans-serif" textLength="33" lengthAdjust="spacingAndGlyphs" text-rendering="geometricPrecision" stroke="#000" stroke-width="0.2">6.69105</text>
<text x="1645.3" y="593" font-size="10.2" fill="#000" font-family="Liberation Sans, sans-serif" textLength="33" lengthAdjust="spacingAndGlyphs" text-rendering="geometricPrecision" stroke="#000" stroke-width="0.2">6.65875</text>
<rect x="1641" y="39" width="36" height="11" fill="#ff0000" shape-rendering="crispEdges"/>
<text x="1645.3" y="48" font-size="10.2" fill="#fff" font-family="Liberation Sans, sans-serif" textLength="33" lengthAdjust="spacingAndGlyphs" text-rendering="geometricPrecision" stroke="#fff" stroke-width="0.2">7.20193</text>
<rect x="1641" y="141" width="36" height="11" fill="#ff0000" shape-rendering="crispEdges"/>
<text x="1645.3" y="150" font-size="10.2" fill="#fff" font-family="Liberation Sans, sans-serif" textLength="33" lengthAdjust="spacingAndGlyphs" text-rendering="geometricPrecision" stroke="#fff" stroke-width="0.2">7.10011</text>
<rect x="1641" y="241" width="36" height="11" fill="#00ff00" shape-rendering="crispEdges"/>
<text x="1645.3" y="250" font-size="10.2" fill="#fff" font-family="Liberation Sans, sans-serif" textLength="33" lengthAdjust="spacingAndGlyphs" text-rendering="geometricPrecision" stroke="#fff" stroke-width="0.2">7.00029</text>
<rect x="1641" y="359" width="36" height="11" fill="#0000ff" shape-rendering="crispEdges"/>
<text x="1645.3" y="368" font-size="10.2" fill="#fff" font-family="Liberation Sans, sans-serif" textLength="33" lengthAdjust="spacingAndGlyphs" text-rendering="geometricPrecision" stroke="#fff" stroke-width="0.2">6.88250</text>
<rect x="1641" y="480" width="36" height="11" fill="#0000ff" shape-rendering="crispEdges"/>
<text x="1645.3" y="489" font-size="10.2" fill="#fff" font-family="Liberation Sans, sans-serif" textLength="33" lengthAdjust="spacingAndGlyphs" text-rendering="geometricPrecision" stroke="#fff" stroke-width="0.2">6.76171</text>
<rect x="1641" y="338" width="36" height="11" fill="#000" shape-rendering="crispEdges"/>
<text x="1645.3" y="347" font-size="10.2" fill="#fff" font-family="Liberation Sans, sans-serif" textLength="33" lengthAdjust="spacingAndGlyphs" text-rendering="geometricPrecision" stroke="#fff" stroke-width="0.2">6.90391</text>
<text x="1643.3" y="605" font-size="10.2" fill="#000" font-family="Liberation Sans, sans-serif" textLength="15" lengthAdjust="spacingAndGlyphs" text-rendering="geometricPrecision" stroke="#000" stroke-width="0.2">100</text>
<text x="1643.3" y="630" font-size="10.2" fill="#000" font-family="Liberation Sans, sans-serif" textLength="10" lengthAdjust="spacingAndGlyphs" text-rendering="geometricPrecision" stroke="#000" stroke-width="0.2">70</text>
<text x="1643.3" y="671" font-size="10.2" fill="#000" font-family="Liberation Sans, sans-serif" textLength="10" lengthAdjust="spacingAndGlyphs" text-rendering="geometricPrecision" stroke="#000" stroke-width="0.2">30</text>
<text x="1643.3" y="695" font-size="10.2" fill="#000" font-family="Liberation Sans, sans-serif" textLength="5" lengthAdjust="spacingAndGlyphs" text-rendering="geometricPrecision" stroke="#000" stroke-width="0.2">0</text>
<text x="1643.3" y="711" font-size="10.2" fill="#000" font-family="Liberation Sans, sans-serif" textLength="33.5" lengthAdjust="spacingAndGlyphs" text-rendering="geometricPrecision" stroke="#000" stroke-width="0.2">0.06311</text>
<text x="1643.3" y="768" font-size="10.2" fill="#000" font-family="Liberation Sans, sans-serif" textLength="17.9" lengthAdjust="spacingAndGlyphs" text-rendering="geometricPrecision" stroke="#000" stroke-width="0.2">0.00</text>
<text x="1643.3" y="800" font-size="10.2" fill="#000" font-family="Liberation Sans, sans-serif" textLength="36" lengthAdjust="spacingAndGlyphs" text-rendering="geometricPrecision" stroke="#000" stroke-width="0.2">-0.03887</text>
<text x="2.5" y="816" font-size="10.1" fill="#000" font-family="Liberation Sans, sans-serif" textLength="51.4" lengthAdjust="spacingAndGlyphs" text-rendering="geometricPrecision" stroke="#000" stroke-width="0.2">16 Feb 2019</text>
<text x="66.5" y="816" font-size="10.1" fill="#000" font-family="Liberation Sans, sans-serif" textLength="46.8" lengthAdjust="spacingAndGlyphs" text-rendering="geometricPrecision" stroke="#000" stroke-width="0.2">7 Mar 2019</text>
<text x="130.5" y="816" font-size="10.1" fill="#000" font-family="Liberation Sans, sans-serif" textLength="51.8" lengthAdjust="spacingAndGlyphs" text-rendering="geometricPrecision" stroke="#000" stroke-width="0.2">26 Mar 2019</text>
<text x="194.5" y="816" font-size="10.1" fill="#000" font-family="Liberation Sans, sans-serif" textLength="51.1" lengthAdjust="spacingAndGlyphs" text-rendering="geometricPrecision" stroke="#000" stroke-width="0.2">13 Apr 2019</text>
<text x="258.5" y="816" font-size="10.1" fill="#000" font-family="Liberation Sans, sans-serif" textLength="49.1" lengthAdjust="spacingAndGlyphs" text-rendering="geometricPrecision" stroke="#000" stroke-width="0.2">3 May 2019</text>
<text x="322.5" y="816" font-size="10.1" fill="#000" font-family="Liberation Sans, sans-serif" textLength="54.4" lengthAdjust="spacingAndGlyphs" text-rendering="geometricPrecision" stroke="#000" stroke-width="0.2">28 May 2019</text>
<text x="386.5" y="816" font-size="10.1" fill="#000" font-family="Liberation Sans, sans-serif" textLength="49.4" lengthAdjust="spacingAndGlyphs" text-rendering="geometricPrecision" stroke="#000" stroke-width="0.2">15 Jun 2019</text>
<text x="450.5" y="816" font-size="10.1" fill="#000" font-family="Liberation Sans, sans-serif" textLength="40.7" lengthAdjust="spacingAndGlyphs" text-rendering="geometricPrecision" stroke="#000" stroke-width="0.2">4 Jul 2019</text>
<text x="514.5" y="816" font-size="10.1" fill="#000" font-family="Liberation Sans, sans-serif" textLength="46.2" lengthAdjust="spacingAndGlyphs" text-rendering="geometricPrecision" stroke="#000" stroke-width="0.2">23 Jul 2019</text>
<text x="578.5" y="816" font-size="10.1" fill="#000" font-family="Liberation Sans, sans-serif" textLength="52.4" lengthAdjust="spacingAndGlyphs" text-rendering="geometricPrecision" stroke="#000" stroke-width="0.2">10 Aug 2019</text>
<text x="642.5" y="816" font-size="10.1" fill="#000" font-family="Liberation Sans, sans-serif" textLength="52.7" lengthAdjust="spacingAndGlyphs" text-rendering="geometricPrecision" stroke="#000" stroke-width="0.2">29 Aug 2019</text>
<text x="706.5" y="816" font-size="10.1" fill="#000" font-family="Liberation Sans, sans-serif" textLength="51.1" lengthAdjust="spacingAndGlyphs" text-rendering="geometricPrecision" stroke="#000" stroke-width="0.2">17 Sep 2019</text>
<text x="770.5" y="816" font-size="10.1" fill="#000" font-family="Liberation Sans, sans-serif" textLength="45.7" lengthAdjust="spacingAndGlyphs" text-rendering="geometricPrecision" stroke="#000" stroke-width="0.2">5 Oct 2019</text>
<text x="834.5" y="816" font-size="10.1" fill="#000" font-family="Liberation Sans, sans-serif" textLength="50.4" lengthAdjust="spacingAndGlyphs" text-rendering="geometricPrecision" stroke="#000" stroke-width="0.2">24 Oct 2019</text>
<text x="898.5" y="816" font-size="10.1" fill="#000" font-family="Liberation Sans, sans-serif" textLength="53.1" lengthAdjust="spacingAndGlyphs" text-rendering="geometricPrecision" stroke="#000" stroke-width="0.2">12 Nov 2019</text>
<text x="962.5" y="816" font-size="10.1" fill="#000" font-family="Liberation Sans, sans-serif" textLength="53.5" lengthAdjust="spacingAndGlyphs" text-rendering="geometricPrecision" stroke="#000" stroke-width="0.2">30 Nov 2019</text>
<text x="1026.5" y="816" font-size="10.1" fill="#000" font-family="Liberation Sans, sans-serif" textLength="51.1" lengthAdjust="spacingAndGlyphs" text-rendering="geometricPrecision" stroke="#000" stroke-width="0.2">19 Dec 2019</text>
<text x="1090.5" y="816" font-size="10.1" fill="#000" font-family="Liberation Sans, sans-serif" textLength="44.5" lengthAdjust="spacingAndGlyphs" text-rendering="geometricPrecision" stroke="#000" stroke-width="0.2">7 Jan 2020</text>
<text x="1154.5" y="816" font-size="10.1" fill="#000" font-family="Liberation Sans, sans-serif" textLength="49.4" lengthAdjust="spacingAndGlyphs" text-rendering="geometricPrecision" stroke="#000" stroke-width="0.2">25 Jan 2020</text>
<text x="1218.5" y="816" font-size="10.1" fill="#000" font-family="Liberation Sans, sans-serif" textLength="51.1" lengthAdjust="spacingAndGlyphs" text-rendering="geometricPrecision" stroke="#000" stroke-width="0.2">13 Feb 2020</text>
<text x="1282.5" y="816" font-size="10.1" fill="#000" font-family="Liberation Sans, sans-serif" textLength="46.1" lengthAdjust="spacingAndGlyphs" text-rendering="geometricPrecision" stroke="#000" stroke-width="0.2">3 Mar 2020</text>
<g shape-rendering="crispEdges">
<rect x="0" y="0" width="1677" height="21" fill="#f0f0f0"/>
<rect x="0" y="20" width="1677" height="1" fill="#e0e0e0"/>
<rect x="0" y="21" width="1677" height="1" fill="#a0a0a0"/>
<rect x="0" y="22" width="1677" height="1" fill="#787878"/>
<rect x="71" y="0" width="1" height="21" fill="#a0a0a0"/>
<rect x="72" y="0" width="1" height="21" fill="#fafafa"/>
<rect x="75" y="1" width="3" height="1" fill="#b4b4b4"/>
<rect x="75" y="3" width="3" height="1" fill="#b4b4b4"/>
<rect x="75" y="5" width="3" height="1" fill="#b4b4b4"/>
<rect x="75" y="7" width="3" height="1" fill="#b4b4b4"/>
<rect x="75" y="9" width="3" height="1" fill="#b4b4b4"/>
<rect x="75" y="11" width="3" height="1" fill="#b4b4b4"/>
<rect x="75" y="13" width="3" height="1" fill="#b4b4b4"/>
<rect x="75" y="15" width="3" height="1" fill="#b4b4b4"/>
<rect x="75" y="17" width="3" height="1" fill="#b4b4b4"/>
<rect x="249" y="0" width="1" height="19" fill="#a8a8a8"/>
<rect x="250" y="0" width="24" height="19" fill="#f7f7f7"/>
<rect x="250" y="19" width="25" height="1" fill="#fff"/>
<rect x="274" y="0" width="1" height="20" fill="#fff"/>
<rect x="332" y="0" width="1" height="21" fill="#a0a0a0"/>
<rect x="333" y="0" width="1" height="21" fill="#fafafa"/>
<rect x="12" y="3" width="1" height="1" fill="#505050"/>
<rect x="12" y="15" width="1" height="1" fill="#505050"/>
<rect x="14" y="3" width="1" height="1" fill="#505050"/>
<rect x="14" y="15" width="1" height="1" fill="#505050"/>
<rect x="16" y="3" width="1" height="1" fill="#505050"/>
<rect x="16" y="15" width="1" height="1" fill="#505050"/>
<rect x="18" y="3" width="1" height="1" fill="#505050"/>
<rect x="18" y="15" width="1" height="1" fill="#505050"/>
<rect x="20" y="3" width="1" height="1" fill="#505050"/>
<rect x="20" y="15" width="1" height="1" fill="#505050"/>
<rect x="23" y="3" width="1" height="1" fill="#505050"/>
<rect x="23" y="15" width="1" height="1" fill="#505050"/>
<rect x="12" y="3" width="1" height="1" fill="#505050"/>
<rect x="23" y="3" width="1" height="1" fill="#505050"/>
<rect x="12" y="5" width="1" height="1" fill="#505050"/>
<rect x="23" y="5" width="1" height="1" fill="#505050"/>
<rect x="12" y="7" width="1" height="1" fill="#505050"/>
<rect x="23" y="7" width="1" height="1" fill="#505050"/>
<rect x="12" y="9" width="1" height="1" fill="#505050"/>
<rect x="23" y="9" width="1" height="1" fill="#505050"/>
<rect x="12" y="11" width="1" height="1" fill="#505050"/>
<rect x="23" y="11" width="1" height="1" fill="#505050"/>
<rect x="12" y="13" width="1" height="1" fill="#505050"/>
<rect x="23" y="13" width="1" height="1" fill="#505050"/>
<rect x="12" y="15" width="1" height="1" fill="#505050"/>
<rect x="23" y="15" width="1" height="1" fill="#505050"/>
<rect x="11" y="2" width="2" height="1" fill="#505050"/>
<rect x="14" y="6" width="8" height="1" fill="#505050"/>
<rect x="17" y="6" width="2" height="8" fill="#505050"/>
</g>
<text x="86.8" y="13" font-size="9.9" fill="#404040" font-family="Liberation Sans, sans-serif" textLength="12.6" lengthAdjust="spacingAndGlyphs" text-rendering="geometricPrecision">M1</text>
<text x="114.6" y="13" font-size="9.9" fill="#404040" font-family="Liberation Sans, sans-serif" textLength="12.8" lengthAdjust="spacingAndGlyphs" text-rendering="geometricPrecision">M5</text>
<text x="140.6" y="13" font-size="9.9" fill="#404040" font-family="Liberation Sans, sans-serif" textLength="17.6" lengthAdjust="spacingAndGlyphs" text-rendering="geometricPrecision">M15</text>
<text x="168.8" y="13" font-size="9.9" fill="#404040" font-family="Liberation Sans, sans-serif" textLength="17.4" lengthAdjust="spacingAndGlyphs" text-rendering="geometricPrecision">M30</text>
<text x="199.8" y="13" font-size="9.9" fill="#404040" font-family="Liberation Sans, sans-serif" textLength="11.2" lengthAdjust="spacingAndGlyphs" text-rendering="geometricPrecision">H1</text>
<text x="226.8" y="13" font-size="9.9" fill="#404040" font-family="Liberation Sans, sans-serif" textLength="12.2" lengthAdjust="spacingAndGlyphs" text-rendering="geometricPrecision">H4</text>
<text x="256" y="13" font-size="9.9" fill="#404040" font-family="Liberation Sans, sans-serif" textLength="11.5" lengthAdjust="spacingAndGlyphs" text-rendering="geometricPrecision">D1</text>
<text x="283" y="13" font-size="9.9" fill="#404040" font-family="Liberation Sans, sans-serif" textLength="13.8" lengthAdjust="spacingAndGlyphs" text-rendering="geometricPrecision">W1</text>
<text x="309.7" y="13" font-size="9.9" fill="#404040" font-family="Liberation Sans, sans-serif" textLength="14.6" lengthAdjust="spacingAndGlyphs" text-rendering="geometricPrecision">MN</text>
<polygon points="39,7.5 46,7.5 42.5,3" fill="#505050"/>
<polygon points="46,12 53,12 49.5,16.2" fill="#505050"/>
<polyline points="41,10.3 43.6,12.6 48,7.3" fill="none" stroke="#505050" stroke-width="1.3"/>
<polygon points="59.5,8 65.5,8 62.5,11" fill="#000"/>
<g shape-rendering="crispEdges">
<rect x="0" y="824" width="1677" height="1" fill="#e8e8e8"/>
<rect x="0" y="825" width="1677" height="1" fill="#fff"/>
<rect x="0" y="826" width="1677" height="1" fill="#000"/>
<rect x="0" y="827" width="1677" height="20" fill="#f0f0f0"/>
<rect x="0" y="827" width="1677" height="1" fill="#f9f9f9"/>
<rect x="0" y="846" width="1677" height="1" fill="#fbfbfb"/>
<rect x="415" y="827" width="1" height="18" fill="#fdfdfd"/>
<rect x="520" y="827" width="1" height="18" fill="#c4c4c4"/>
<rect x="417" y="845" width="104" height="1" fill="#c0c0c0"/>
<rect x="416" y="826" width="104" height="19" fill="#000"/>
<rect x="417" y="826" width="102" height="18" fill="#fff"/>
<rect x="108" y="829" width="1" height="14" fill="#606060"/>
<rect x="208" y="829" width="1" height="14" fill="#606060"/>
<rect x="312" y="829" width="1" height="14" fill="#606060"/>
<rect x="624" y="829" width="1" height="14" fill="#606060"/>
<rect x="716" y="829" width="1" height="14" fill="#606060"/>
<rect x="812" y="829" width="1" height="14" fill="#606060"/>
<rect x="884" y="829" width="1" height="14" fill="#606060"/>
<rect x="964" y="829" width="1" height="14" fill="#606060"/>
<rect x="1044" y="829" width="1" height="14" fill="#606060"/>
<rect x="1124" y="829" width="1" height="14" fill="#606060"/>
<rect x="1200" y="829" width="1" height="14" fill="#606060"/>
</g>
<text x="16" y="840.5" font-size="12" fill="#666" font-family="Liberation Sans, sans-serif" textLength="80.2" lengthAdjust="spacingAndGlyphs">EURUSD,Daily</text>
<text x="118.5" y="840.5" font-size="12" fill="#666" font-family="Liberation Sans, sans-serif" textLength="78.5" lengthAdjust="spacingAndGlyphs">USDCHF,Daily</text>
<text x="218.7" y="840.5" font-size="12" fill="#666" font-family="Liberation Sans, sans-serif" textLength="81.8" lengthAdjust="spacingAndGlyphs">AUDUSD,Daily</text>
<text x="323.2" y="840.5" font-size="12" fill="#666" font-family="Liberation Sans, sans-serif" textLength="80.8" lengthAdjust="spacingAndGlyphs">USDCAD,Daily</text>
<text x="532.5" y="840.5" font-size="12" fill="#666" font-family="Liberation Sans, sans-serif" textLength="79.3" lengthAdjust="spacingAndGlyphs">EURUSD,Daily</text>
<text x="636.1" y="840.5" font-size="12" fill="#666" font-family="Liberation Sans, sans-serif" textLength="68.1" lengthAdjust="spacingAndGlyphs">GBPUSD,H4</text>
<text x="728" y="840.5" font-size="12" fill="#666" font-family="Liberation Sans, sans-serif" textLength="71.7" lengthAdjust="spacingAndGlyphs">XAUUSD,M5</text>
<text x="823.1" y="840.5" font-size="12" fill="#666" font-family="Liberation Sans, sans-serif" textLength="49.1" lengthAdjust="spacingAndGlyphs">HK50,H1</text>
<text x="894.9" y="840.5" font-size="12" fill="#666" font-family="Liberation Sans, sans-serif" textLength="56.4" lengthAdjust="spacingAndGlyphs">UK100,H1</text>
<text x="975" y="840.5" font-size="12" fill="#666" font-family="Liberation Sans, sans-serif" textLength="56.5" lengthAdjust="spacingAndGlyphs">UK100,H1</text>
<text x="1055.2" y="840.5" font-size="12" fill="#666" font-family="Liberation Sans, sans-serif" textLength="55.7" lengthAdjust="spacingAndGlyphs">GER30,H1</text>
<text x="1134.4" y="840.5" font-size="12" fill="#666" font-family="Liberation Sans, sans-serif" textLength="53.7" lengthAdjust="spacingAndGlyphs">FRA40,H1</text>
<text x="426.7" y="841" font-size="12" fill="#000" font-family="Liberation Sans, sans-serif" textLength="82.5" lengthAdjust="spacingAndGlyphs">USDCNH,Daily</text>
<polygon points="1655,835 1658.5,831.5 1658.5,838.5" fill="#a0a0a0"/>
<polygon points="1674,831.5 1677.5,835 1674,838.5" fill="#a0a0a0"/>
</svg>
</body></html>
